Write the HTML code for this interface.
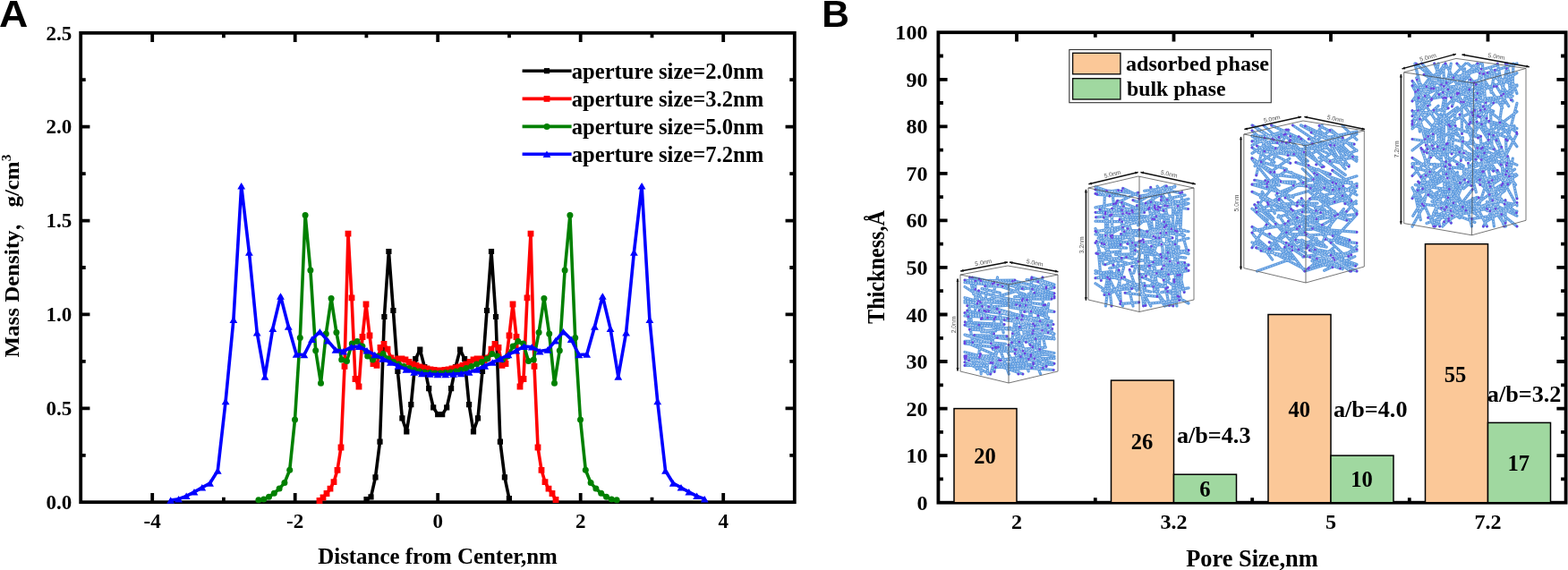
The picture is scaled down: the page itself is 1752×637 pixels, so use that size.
<!DOCTYPE html>
<html><head><meta charset="utf-8"><title>Figure</title>
<style>html,body{margin:0;padding:0;background:#fff;overflow:hidden}svg{display:block}</style>
</head><body><svg width="1752" height="637" viewBox="0 0 1752 637"><path d="M170.2,561.2V551.0M170.2,36.8V47.0M249.9,561.2V555.7M249.9,36.8V42.3M329.7,561.2V551.0M329.7,36.8V47.0M409.4,561.2V555.7M409.4,36.8V42.3M489.2,561.2V551.0M489.2,36.8V47.0M569.0,561.2V555.7M569.0,36.8V42.3M648.7,561.2V551.0M648.7,36.8V47.0M728.5,561.2V555.7M728.5,36.8V42.3M808.2,561.2V551.0M808.2,36.8V47.0M90.2,508.8H95.7M887.8,508.8H882.3M90.2,456.3H100.4M887.8,456.3H877.6M90.2,403.9H95.7M887.8,403.9H882.3M90.2,351.4H100.4M887.8,351.4H877.6M90.2,299.0H95.7M887.8,299.0H882.3M90.2,246.6H100.4M887.8,246.6H877.6M90.2,194.1H95.7M887.8,194.1H882.3M90.2,141.7H100.4M887.8,141.7H877.6M90.2,89.2H95.7M887.8,89.2H882.3" stroke="#000" stroke-width="3.8" fill="none"/>
<rect x="90.2" y="36.8" width="797.6" height="524.4" fill="none" stroke="#000" stroke-width="3.8"/>
<text x="80.2" y="568.9" text-anchor="end" style="font-family:'Liberation Serif',serif;font-weight:bold;font-size:23px">0.0</text>
<text x="80.2" y="464.0" text-anchor="end" style="font-family:'Liberation Serif',serif;font-weight:bold;font-size:23px">0.5</text>
<text x="80.2" y="359.1" text-anchor="end" style="font-family:'Liberation Serif',serif;font-weight:bold;font-size:23px">1.0</text>
<text x="80.2" y="254.2" text-anchor="end" style="font-family:'Liberation Serif',serif;font-weight:bold;font-size:23px">1.5</text>
<text x="80.2" y="149.3" text-anchor="end" style="font-family:'Liberation Serif',serif;font-weight:bold;font-size:23px">2.0</text>
<text x="80.2" y="44.5" text-anchor="end" style="font-family:'Liberation Serif',serif;font-weight:bold;font-size:23px">2.5</text>
<text x="170.2" y="590.4" text-anchor="middle" style="font-family:'Liberation Serif',serif;font-weight:bold;font-size:23px">-4</text>
<text x="329.7" y="590.4" text-anchor="middle" style="font-family:'Liberation Serif',serif;font-weight:bold;font-size:23px">-2</text>
<text x="489.2" y="590.4" text-anchor="middle" style="font-family:'Liberation Serif',serif;font-weight:bold;font-size:23px">0</text>
<text x="648.7" y="590.4" text-anchor="middle" style="font-family:'Liberation Serif',serif;font-weight:bold;font-size:23px">2</text>
<text x="808.2" y="590.4" text-anchor="middle" style="font-family:'Liberation Serif',serif;font-weight:bold;font-size:23px">4</text>
<text x="489" y="630.3" text-anchor="middle" style="font-family:'Liberation Serif',serif;font-weight:bold;font-size:24.9px">Distance from Center,nm</text>
<text transform="translate(21.4,399.4) rotate(-90) scale(1.07,1)" x="0" y="0" style="font-family:'Liberation Serif','Noto Serif CJK SC',serif;font-weight:bold;font-size:23.3px">Mass Density，<tspan dx="1">g/cm</tspan><tspan dy="-9" style="font-size:14.5px">3</tspan></text>
<g>
<path d="M409.5,558.1L414.5,555.3L419.5,533.3L424.5,493.7L429.4,354.0L434.4,281.0L439.4,347.0L444.4,415.0L449.4,467.4L454.3,482.3L459.3,452.2L464.3,401.2L469.3,390.7L474.3,410.0L479.2,434.2L484.2,455.4L489.2,463.2L494.2,463.2L499.2,455.4L504.1,434.2L509.1,410.0L514.1,390.7L519.1,401.2L524.1,452.2L529.0,482.3L534.0,467.4L539.0,415.0L544.0,347.0L549.0,281.0L554.0,354.0L558.9,493.7L563.9,533.3L568.9,557.0" stroke="#000000" stroke-width="3.6" fill="none" stroke-linejoin="round"/>
<path d="M406.4,555.0h6.2v6.2h-6.2zM411.4,552.2h6.2v6.2h-6.2zM416.4,530.2h6.2v6.2h-6.2zM421.4,490.6h6.2v6.2h-6.2zM426.3,350.9h6.2v6.2h-6.2zM431.3,277.9h6.2v6.2h-6.2zM436.3,343.9h6.2v6.2h-6.2zM441.3,411.9h6.2v6.2h-6.2zM446.3,464.3h6.2v6.2h-6.2zM451.2,479.2h6.2v6.2h-6.2zM456.2,449.1h6.2v6.2h-6.2zM461.2,398.1h6.2v6.2h-6.2zM466.2,387.6h6.2v6.2h-6.2zM471.2,406.9h6.2v6.2h-6.2zM476.1,431.1h6.2v6.2h-6.2zM481.1,452.3h6.2v6.2h-6.2zM486.1,460.1h6.2v6.2h-6.2zM491.1,460.1h6.2v6.2h-6.2zM496.1,452.3h6.2v6.2h-6.2zM501.0,431.1h6.2v6.2h-6.2zM506.0,406.9h6.2v6.2h-6.2zM511.0,387.6h6.2v6.2h-6.2zM516.0,398.1h6.2v6.2h-6.2zM521.0,449.1h6.2v6.2h-6.2zM525.9,479.2h6.2v6.2h-6.2zM530.9,464.3h6.2v6.2h-6.2zM535.9,411.9h6.2v6.2h-6.2zM540.9,343.9h6.2v6.2h-6.2zM545.9,277.9h6.2v6.2h-6.2zM550.9,350.9h6.2v6.2h-6.2zM555.8,490.6h6.2v6.2h-6.2zM560.8,530.2h6.2v6.2h-6.2zM565.8,553.9h6.2v6.2h-6.2z" fill="#000000"/>
<path d="M357.0,559.5L361.0,556.0L365.0,551.5L369.0,546.1L373.0,538.7L377.0,525.3L381.0,500.0L385.0,409.3L389.0,261.2L393.0,332.9L397.0,423.5L401.0,432.0L405.0,376.5L409.0,340.0L413.0,375.0L417.0,406.5L421.0,408.4L425.0,388.3L429.0,384.5L433.0,390.2L437.0,400.0L441.0,402.7L445.0,401.0L449.0,401.0L453.0,402.0L457.0,404.5L461.0,407.0L465.0,408.5L469.0,410.0L473.0,411.0L477.0,412.0L481.0,413.0L485.0,413.5L489.0,414.0L493.0,414.0L497.0,413.5L501.0,413.0L505.0,412.0L509.0,411.0L513.0,410.0L517.0,408.5L521.0,407.0L525.0,404.5L529.0,402.0L533.0,401.0L537.0,401.0L541.0,402.7L545.0,400.0L549.0,390.2L553.0,384.5L557.0,388.3L561.0,408.4L565.0,406.5L569.0,375.0L573.0,340.0L577.0,376.5L581.0,432.0L585.0,423.5L589.0,332.9L593.0,261.2L597.0,409.3L601.0,500.0L605.0,525.3L609.0,538.7L613.0,546.1L617.0,551.5L621.0,558.5" stroke="#ff0000" stroke-width="3.6" fill="none" stroke-linejoin="round"/>
<path d="M353.6,556.1h6.8v6.8h-6.8zM357.6,552.6h6.8v6.8h-6.8zM361.6,548.1h6.8v6.8h-6.8zM365.6,542.7h6.8v6.8h-6.8zM369.6,535.3h6.8v6.8h-6.8zM373.6,521.9h6.8v6.8h-6.8zM377.6,496.6h6.8v6.8h-6.8zM381.6,405.9h6.8v6.8h-6.8zM385.6,257.8h6.8v6.8h-6.8zM389.6,329.5h6.8v6.8h-6.8zM393.6,420.1h6.8v6.8h-6.8zM397.6,428.6h6.8v6.8h-6.8zM401.6,373.1h6.8v6.8h-6.8zM405.6,336.6h6.8v6.8h-6.8zM409.6,371.6h6.8v6.8h-6.8zM413.6,403.1h6.8v6.8h-6.8zM417.6,405.0h6.8v6.8h-6.8zM421.6,384.9h6.8v6.8h-6.8zM425.6,381.1h6.8v6.8h-6.8zM429.6,386.8h6.8v6.8h-6.8zM433.6,396.6h6.8v6.8h-6.8zM437.6,399.3h6.8v6.8h-6.8zM441.6,397.6h6.8v6.8h-6.8zM445.6,397.6h6.8v6.8h-6.8zM449.6,398.6h6.8v6.8h-6.8zM453.6,401.1h6.8v6.8h-6.8zM457.6,403.6h6.8v6.8h-6.8zM461.6,405.1h6.8v6.8h-6.8zM465.6,406.6h6.8v6.8h-6.8zM469.6,407.6h6.8v6.8h-6.8zM473.6,408.6h6.8v6.8h-6.8zM477.6,409.6h6.8v6.8h-6.8zM481.6,410.1h6.8v6.8h-6.8zM485.6,410.6h6.8v6.8h-6.8zM489.6,410.6h6.8v6.8h-6.8zM493.6,410.1h6.8v6.8h-6.8zM497.6,409.6h6.8v6.8h-6.8zM501.6,408.6h6.8v6.8h-6.8zM505.6,407.6h6.8v6.8h-6.8zM509.6,406.6h6.8v6.8h-6.8zM513.6,405.1h6.8v6.8h-6.8zM517.6,403.6h6.8v6.8h-6.8zM521.6,401.1h6.8v6.8h-6.8zM525.6,398.6h6.8v6.8h-6.8zM529.6,397.6h6.8v6.8h-6.8zM533.6,397.6h6.8v6.8h-6.8zM537.6,399.3h6.8v6.8h-6.8zM541.6,396.6h6.8v6.8h-6.8zM545.6,386.8h6.8v6.8h-6.8zM549.6,381.1h6.8v6.8h-6.8zM553.6,384.9h6.8v6.8h-6.8zM557.6,405.0h6.8v6.8h-6.8zM561.6,403.1h6.8v6.8h-6.8zM565.6,371.6h6.8v6.8h-6.8zM569.6,336.6h6.8v6.8h-6.8zM573.6,373.1h6.8v6.8h-6.8zM577.6,428.6h6.8v6.8h-6.8zM581.6,420.1h6.8v6.8h-6.8zM585.6,329.5h6.8v6.8h-6.8zM589.6,257.8h6.8v6.8h-6.8zM593.6,405.9h6.8v6.8h-6.8zM597.6,496.6h6.8v6.8h-6.8zM601.6,521.9h6.8v6.8h-6.8zM605.6,535.3h6.8v6.8h-6.8zM609.6,542.7h6.8v6.8h-6.8zM613.6,548.1h6.8v6.8h-6.8zM617.6,555.1h6.8v6.8h-6.8z" fill="#ff0000"/>
<path d="M288.9,558.8L294.7,558.0L300.5,555.3L306.3,551.2L312.1,546.1L317.9,539.6L323.7,525.3L329.5,469.0L335.3,377.4L341.1,240.5L346.9,302.1L352.7,391.8L358.5,428.2L364.3,373.0L370.1,333.4L375.9,371.4L381.7,402.0L387.5,403.6L393.3,384.0L399.1,381.6L404.9,387.1L410.7,398.0L416.5,402.0L422.3,398.0L428.1,395.5L433.9,401.0L439.7,404.5L445.5,407.0L451.3,409.5L457.1,411.5L462.9,413.5L468.7,415.0L474.5,416.0L480.3,416.5L486.1,417.0L491.9,417.0L497.7,416.5L503.5,416.0L509.3,415.0L515.1,413.5L520.9,411.5L526.7,409.5L532.5,407.0L538.3,404.5L544.1,401.0L549.9,395.5L555.7,398.0L561.5,402.0L567.3,398.0L573.1,387.1L578.9,381.6L584.7,384.0L590.5,403.6L596.3,402.0L602.1,371.4L607.9,333.4L613.7,373.0L619.5,428.2L625.3,391.8L631.1,302.1L636.9,240.5L642.7,377.4L648.5,469.0L654.3,525.3L660.1,539.6L665.9,546.1L671.7,551.2L677.5,555.3L683.3,558.0L689.1,558.8" stroke="#008000" stroke-width="3.6" fill="none" stroke-linejoin="round"/>
<circle cx="288.9" cy="558.8" r="3.5" fill="#008000"/><circle cx="294.7" cy="558.0" r="3.5" fill="#008000"/><circle cx="300.5" cy="555.3" r="3.5" fill="#008000"/><circle cx="306.3" cy="551.2" r="3.5" fill="#008000"/><circle cx="312.1" cy="546.1" r="3.5" fill="#008000"/><circle cx="317.9" cy="539.6" r="3.5" fill="#008000"/><circle cx="323.7" cy="525.3" r="3.5" fill="#008000"/><circle cx="329.5" cy="469.0" r="3.5" fill="#008000"/><circle cx="335.3" cy="377.4" r="3.5" fill="#008000"/><circle cx="341.1" cy="240.5" r="3.5" fill="#008000"/><circle cx="346.9" cy="302.1" r="3.5" fill="#008000"/><circle cx="352.7" cy="391.8" r="3.5" fill="#008000"/><circle cx="358.5" cy="428.2" r="3.5" fill="#008000"/><circle cx="364.3" cy="373.0" r="3.5" fill="#008000"/><circle cx="370.1" cy="333.4" r="3.5" fill="#008000"/><circle cx="375.9" cy="371.4" r="3.5" fill="#008000"/><circle cx="381.7" cy="402.0" r="3.5" fill="#008000"/><circle cx="387.5" cy="403.6" r="3.5" fill="#008000"/><circle cx="393.3" cy="384.0" r="3.5" fill="#008000"/><circle cx="399.1" cy="381.6" r="3.5" fill="#008000"/><circle cx="404.9" cy="387.1" r="3.5" fill="#008000"/><circle cx="410.7" cy="398.0" r="3.5" fill="#008000"/><circle cx="416.5" cy="402.0" r="3.5" fill="#008000"/><circle cx="422.3" cy="398.0" r="3.5" fill="#008000"/><circle cx="428.1" cy="395.5" r="3.5" fill="#008000"/><circle cx="433.9" cy="401.0" r="3.5" fill="#008000"/><circle cx="439.7" cy="404.5" r="3.5" fill="#008000"/><circle cx="445.5" cy="407.0" r="3.5" fill="#008000"/><circle cx="451.3" cy="409.5" r="3.5" fill="#008000"/><circle cx="457.1" cy="411.5" r="3.5" fill="#008000"/><circle cx="462.9" cy="413.5" r="3.5" fill="#008000"/><circle cx="468.7" cy="415.0" r="3.5" fill="#008000"/><circle cx="474.5" cy="416.0" r="3.5" fill="#008000"/><circle cx="480.3" cy="416.5" r="3.5" fill="#008000"/><circle cx="486.1" cy="417.0" r="3.5" fill="#008000"/><circle cx="491.9" cy="417.0" r="3.5" fill="#008000"/><circle cx="497.7" cy="416.5" r="3.5" fill="#008000"/><circle cx="503.5" cy="416.0" r="3.5" fill="#008000"/><circle cx="509.3" cy="415.0" r="3.5" fill="#008000"/><circle cx="515.1" cy="413.5" r="3.5" fill="#008000"/><circle cx="520.9" cy="411.5" r="3.5" fill="#008000"/><circle cx="526.7" cy="409.5" r="3.5" fill="#008000"/><circle cx="532.5" cy="407.0" r="3.5" fill="#008000"/><circle cx="538.3" cy="404.5" r="3.5" fill="#008000"/><circle cx="544.1" cy="401.0" r="3.5" fill="#008000"/><circle cx="549.9" cy="395.5" r="3.5" fill="#008000"/><circle cx="555.7" cy="398.0" r="3.5" fill="#008000"/><circle cx="561.5" cy="402.0" r="3.5" fill="#008000"/><circle cx="567.3" cy="398.0" r="3.5" fill="#008000"/><circle cx="573.1" cy="387.1" r="3.5" fill="#008000"/><circle cx="578.9" cy="381.6" r="3.5" fill="#008000"/><circle cx="584.7" cy="384.0" r="3.5" fill="#008000"/><circle cx="590.5" cy="403.6" r="3.5" fill="#008000"/><circle cx="596.3" cy="402.0" r="3.5" fill="#008000"/><circle cx="602.1" cy="371.4" r="3.5" fill="#008000"/><circle cx="607.9" cy="333.4" r="3.5" fill="#008000"/><circle cx="613.7" cy="373.0" r="3.5" fill="#008000"/><circle cx="619.5" cy="428.2" r="3.5" fill="#008000"/><circle cx="625.3" cy="391.8" r="3.5" fill="#008000"/><circle cx="631.1" cy="302.1" r="3.5" fill="#008000"/><circle cx="636.9" cy="240.5" r="3.5" fill="#008000"/><circle cx="642.7" cy="377.4" r="3.5" fill="#008000"/><circle cx="648.5" cy="469.0" r="3.5" fill="#008000"/><circle cx="654.3" cy="525.3" r="3.5" fill="#008000"/><circle cx="660.1" cy="539.6" r="3.5" fill="#008000"/><circle cx="665.9" cy="546.1" r="3.5" fill="#008000"/><circle cx="671.7" cy="551.2" r="3.5" fill="#008000"/><circle cx="677.5" cy="555.3" r="3.5" fill="#008000"/><circle cx="683.3" cy="558.0" r="3.5" fill="#008000"/><circle cx="689.1" cy="558.8" r="3.5" fill="#008000"/>
<path d="M190.7,559.0L199.5,557.7L208.2,554.4L217.0,549.9L225.8,544.9L234.6,540.0L243.3,526.0L252.1,448.5L260.9,357.3L269.7,207.8L278.4,282.0L287.2,371.6L296.0,421.0L304.8,367.1L313.5,331.0L322.3,365.0L331.1,396.0L339.9,396.5L348.6,379.2L357.4,370.6L366.2,380.8L375.0,391.0L383.7,392.6L392.5,387.9L401.3,387.1L410.0,391.8L418.8,396.5L427.6,401.0L436.4,405.0L445.1,409.0L453.9,413.0L462.7,416.0L471.5,417.5L480.2,418.0L489.0,418.5L497.8,418.5L506.6,418.0L515.3,417.5L524.1,416.0L532.9,413.0L541.7,409.0L550.4,405.0L559.2,401.0L568.0,396.5L576.8,391.8L585.5,387.1L594.3,387.9L603.1,392.6L611.9,391.0L620.6,380.8L629.4,370.6L638.2,379.2L646.9,396.5L655.7,396.0L664.5,365.0L673.3,331.0L682.0,367.1L690.8,421.0L699.6,371.6L708.4,282.0L717.1,207.8L725.9,357.3L734.7,448.5L743.5,526.0L752.2,540.0L761.0,544.9L769.8,549.9L778.6,554.4L787.3,557.7" stroke="#0000ff" stroke-width="3.6" fill="none" stroke-linejoin="round"/>
<path d="M190.7,555.2l4.4,7.5h-8.8zM199.5,554.0l4.4,7.5h-8.8zM208.2,550.6l4.4,7.5h-8.8zM217.0,546.1l4.4,7.5h-8.8zM225.8,541.1l4.4,7.5h-8.8zM234.6,536.2l4.4,7.5h-8.8zM243.3,522.2l4.4,7.5h-8.8zM252.1,444.8l4.4,7.5h-8.8zM260.9,353.6l4.4,7.5h-8.8zM269.7,204.1l4.4,7.5h-8.8zM278.4,278.2l4.4,7.5h-8.8zM287.2,367.9l4.4,7.5h-8.8zM296.0,417.2l4.4,7.5h-8.8zM304.8,363.4l4.4,7.5h-8.8zM313.5,327.2l4.4,7.5h-8.8zM322.3,361.2l4.4,7.5h-8.8zM331.1,392.2l4.4,7.5h-8.8zM339.9,392.8l4.4,7.5h-8.8zM348.6,375.4l4.4,7.5h-8.8zM357.4,366.9l4.4,7.5h-8.8zM366.2,377.1l4.4,7.5h-8.8zM375.0,387.2l4.4,7.5h-8.8zM383.7,388.9l4.4,7.5h-8.8zM392.5,384.1l4.4,7.5h-8.8zM401.3,383.4l4.4,7.5h-8.8zM410.0,388.1l4.4,7.5h-8.8zM418.8,392.8l4.4,7.5h-8.8zM427.6,397.2l4.4,7.5h-8.8zM436.4,401.2l4.4,7.5h-8.8zM445.1,405.2l4.4,7.5h-8.8zM453.9,409.2l4.4,7.5h-8.8zM462.7,412.2l4.4,7.5h-8.8zM471.5,413.8l4.4,7.5h-8.8zM480.2,414.2l4.4,7.5h-8.8zM489.0,414.8l4.4,7.5h-8.8zM497.8,414.8l4.4,7.5h-8.8zM506.6,414.2l4.4,7.5h-8.8zM515.3,413.8l4.4,7.5h-8.8zM524.1,412.2l4.4,7.5h-8.8zM532.9,409.2l4.4,7.5h-8.8zM541.7,405.2l4.4,7.5h-8.8zM550.4,401.2l4.4,7.5h-8.8zM559.2,397.2l4.4,7.5h-8.8zM568.0,392.8l4.4,7.5h-8.8zM576.8,388.1l4.4,7.5h-8.8zM585.5,383.4l4.4,7.5h-8.8zM594.3,384.1l4.4,7.5h-8.8zM603.1,388.9l4.4,7.5h-8.8zM611.9,387.2l4.4,7.5h-8.8zM620.6,377.1l4.4,7.5h-8.8zM629.4,366.9l4.4,7.5h-8.8zM638.2,375.4l4.4,7.5h-8.8zM646.9,392.8l4.4,7.5h-8.8zM655.7,392.2l4.4,7.5h-8.8zM664.5,361.2l4.4,7.5h-8.8zM673.3,327.2l4.4,7.5h-8.8zM682.0,363.4l4.4,7.5h-8.8zM690.8,417.2l4.4,7.5h-8.8zM699.6,367.9l4.4,7.5h-8.8zM708.4,278.2l4.4,7.5h-8.8zM717.1,204.1l4.4,7.5h-8.8zM725.9,353.6l4.4,7.5h-8.8zM734.7,444.8l4.4,7.5h-8.8zM743.5,522.2l4.4,7.5h-8.8zM752.2,536.2l4.4,7.5h-8.8zM761.0,541.1l4.4,7.5h-8.8zM769.8,546.1l4.4,7.5h-8.8zM778.6,550.6l4.4,7.5h-8.8zM787.3,554.0l4.4,7.5h-8.8z" fill="#0000ff"/>
</g>
<path d="M583.6,79.2H638.6" stroke="#000000" stroke-width="3.6"/>
<path d="M607.9,76.1h6.2v6.2h-6.2z" fill="#000000"/>
<text x="638.8" y="87.6" style="font-family:'Liberation Serif',serif;font-weight:bold;font-size:24.6px">aperture size=2.0nm</text>
<path d="M583.6,110.4H638.6" stroke="#ff0000" stroke-width="3.6"/>
<path d="M607.6,107.0h6.8v6.8h-6.8z" fill="#ff0000"/>
<text x="638.8" y="118.8" style="font-family:'Liberation Serif',serif;font-weight:bold;font-size:24.6px">aperture size=3.2nm</text>
<path d="M583.6,141.4H638.6" stroke="#008000" stroke-width="3.6"/>
<circle cx="611.0" cy="141.4" r="3.5" fill="#008000"/>
<text x="638.8" y="149.8" style="font-family:'Liberation Serif',serif;font-weight:bold;font-size:24.6px">aperture size=5.0nm</text>
<path d="M583.6,172.2H638.6" stroke="#0000ff" stroke-width="3.6"/>
<path d="M611.0,168.4l4.4,7.5h-8.8z" fill="#0000ff"/>
<text x="638.8" y="180.6" style="font-family:'Liberation Serif',serif;font-weight:bold;font-size:24.6px">aperture size=7.2nm</text>
<text transform="translate(-1.0,29.7) scale(1.04,1)" style="font-family:'Liberation Sans',sans-serif;font-weight:bold;font-size:43px">A</text>
<text transform="translate(918.2,29.7)" style="font-family:'Liberation Sans',sans-serif;font-weight:bold;font-size:42.5px">B</text>
<text x="1036.5" y="569.7" text-anchor="end" style="font-family:'Liberation Serif',serif;font-weight:bold;font-size:24.1px">0</text>
<text x="1036.5" y="517.2" text-anchor="end" style="font-family:'Liberation Serif',serif;font-weight:bold;font-size:24.1px">10</text>
<text x="1036.5" y="464.6" text-anchor="end" style="font-family:'Liberation Serif',serif;font-weight:bold;font-size:24.1px">20</text>
<text x="1036.5" y="412.1" text-anchor="end" style="font-family:'Liberation Serif',serif;font-weight:bold;font-size:24.1px">30</text>
<text x="1036.5" y="359.5" text-anchor="end" style="font-family:'Liberation Serif',serif;font-weight:bold;font-size:24.1px">40</text>
<text x="1036.5" y="307.0" text-anchor="end" style="font-family:'Liberation Serif',serif;font-weight:bold;font-size:24.1px">50</text>
<text x="1036.5" y="254.4" text-anchor="end" style="font-family:'Liberation Serif',serif;font-weight:bold;font-size:24.1px">60</text>
<text x="1036.5" y="201.9" text-anchor="end" style="font-family:'Liberation Serif',serif;font-weight:bold;font-size:24.1px">70</text>
<text x="1036.5" y="149.3" text-anchor="end" style="font-family:'Liberation Serif',serif;font-weight:bold;font-size:24.1px">80</text>
<text x="1036.5" y="96.8" text-anchor="end" style="font-family:'Liberation Serif',serif;font-weight:bold;font-size:24.1px">90</text>
<text x="1036.5" y="44.2" text-anchor="end" style="font-family:'Liberation Serif',serif;font-weight:bold;font-size:24.1px">100</text>
<text x="1136" y="591" text-anchor="middle" style="font-family:'Liberation Serif',serif;font-weight:bold;font-size:24.1px">2</text>
<text x="1311.5" y="591" text-anchor="middle" style="font-family:'Liberation Serif',serif;font-weight:bold;font-size:24.1px">3.2</text>
<text x="1487" y="591" text-anchor="middle" style="font-family:'Liberation Serif',serif;font-weight:bold;font-size:24.1px">5</text>
<text x="1662.5" y="591" text-anchor="middle" style="font-family:'Liberation Serif',serif;font-weight:bold;font-size:24.1px">7.2</text>
<text x="1399" y="633" text-anchor="middle" style="font-family:'Liberation Serif',serif;font-weight:bold;font-size:26.4px">Pore Size,nm</text>
<text transform="translate(988,362) rotate(-90) scale(1,1.1)" style="font-family:'Liberation Serif',serif;font-weight:bold;font-size:24.2px">Thickness,Å</text>
<path d="M1136.0,36.2V46.4M1223.8,561.7V556.2M1223.8,36.2V41.7M1311.5,36.2V46.4M1399.2,561.7V556.2M1399.2,36.2V41.7M1487.0,36.2V46.4M1574.8,561.7V556.2M1574.8,36.2V41.7M1662.5,36.2V46.4M1048.4,535.4H1053.9M1749.6,535.4H1744.1M1048.4,509.1H1058.6M1749.6,509.1H1739.4M1048.4,482.9H1053.9M1749.6,482.9H1744.1M1048.4,456.6H1058.6M1749.6,456.6H1739.4M1048.4,430.3H1053.9M1749.6,430.3H1744.1M1048.4,404.0H1058.6M1749.6,404.0H1739.4M1048.4,377.8H1053.9M1749.6,377.8H1744.1M1048.4,351.5H1058.6M1749.6,351.5H1739.4M1048.4,325.2H1053.9M1749.6,325.2H1744.1M1048.4,298.9H1058.6M1749.6,298.9H1739.4M1048.4,272.7H1053.9M1749.6,272.7H1744.1M1048.4,246.4H1058.6M1749.6,246.4H1739.4M1048.4,220.1H1053.9M1749.6,220.1H1744.1M1048.4,193.9H1058.6M1749.6,193.9H1739.4M1048.4,167.6H1053.9M1749.6,167.6H1744.1M1048.4,141.3H1058.6M1749.6,141.3H1739.4M1048.4,115.0H1053.9M1749.6,115.0H1744.1M1048.4,88.8H1058.6M1749.6,88.8H1739.4M1048.4,62.5H1053.9M1749.6,62.5H1744.1" stroke="#000" stroke-width="3.8" fill="none"/>
<rect x="1048.4" y="36.2" width="701.2" height="525.5" fill="none" stroke="#000" stroke-width="3.8"/>
<rect x="1066" y="456.6" width="70" height="105.1" fill="#fbc898" stroke="#000" stroke-width="1.5"/>
<rect x="1241.5" y="425.1" width="70" height="136.6" fill="#fbc898" stroke="#000" stroke-width="1.5"/>
<rect x="1311.5" y="530.2" width="70" height="31.5" fill="#a0d8a0" stroke="#000" stroke-width="1.5"/>
<rect x="1417" y="351.5" width="70" height="210.2" fill="#fbc898" stroke="#000" stroke-width="1.5"/>
<rect x="1487" y="509.1" width="70" height="52.6" fill="#a0d8a0" stroke="#000" stroke-width="1.5"/>
<rect x="1592.5" y="272.7" width="70" height="289.0" fill="#fbc898" stroke="#000" stroke-width="1.5"/>
<rect x="1662.5" y="472.4" width="70" height="89.3" fill="#a0d8a0" stroke="#000" stroke-width="1.5"/>
<text x="1100.6" y="517.9" text-anchor="middle" style="font-family:'Liberation Serif',serif;font-weight:bold;font-size:24.6px">20</text>
<text x="1276" y="502.0" text-anchor="middle" style="font-family:'Liberation Serif',serif;font-weight:bold;font-size:24.6px">26</text>
<text x="1346.4" y="555.2" text-anchor="middle" style="font-family:'Liberation Serif',serif;font-weight:bold;font-size:24.6px">6</text>
<text x="1451.7" y="466.1" text-anchor="middle" style="font-family:'Liberation Serif',serif;font-weight:bold;font-size:24.6px">40</text>
<text x="1521.6" y="543.9" text-anchor="middle" style="font-family:'Liberation Serif',serif;font-weight:bold;font-size:24.6px">10</text>
<text x="1626.1" y="426.6" text-anchor="middle" style="font-family:'Liberation Serif',serif;font-weight:bold;font-size:24.6px">55</text>
<text x="1696.7" y="525.7" text-anchor="middle" style="font-family:'Liberation Serif',serif;font-weight:bold;font-size:24.6px">17</text>
<text x="1314.9" y="495.3" style="font-family:'Liberation Serif',serif;font-weight:bold;font-size:26.2px">a/b=4.3</text>
<text x="1489.9" y="466.3" style="font-family:'Liberation Serif',serif;font-weight:bold;font-size:26.2px">a/b=4.0</text>
<text x="1661.8" y="449.3" style="font-family:'Liberation Serif',serif;font-weight:bold;font-size:26.2px">a/b=3.2</text>
<rect x="1194.8" y="55.5" width="225.5" height="59.2" fill="#fff" stroke="#333" stroke-width="1.1"/>
<rect x="1198.6" y="59.3" width="53.3" height="23.5" fill="#fbc898" stroke="#111" stroke-width="1.4"/>
<rect x="1198.6" y="87.7" width="53.3" height="23.3" fill="#a0d8a0" stroke="#111" stroke-width="1.4"/>
<text x="1258" y="78.9" style="font-family:'Liberation Serif',serif;font-weight:bold;font-size:24.1px">adsorbed phase</text>
<text x="1259" y="106.8" style="font-family:'Liberation Serif',serif;font-weight:bold;font-size:23.8px">bulk phase</text>
<path d="M1079.7,397.8L1109.0,401.1M1131.9,390.4L1152.0,396.5M1142.0,352.2L1175.8,362.0M1102.3,398.9L1103.8,418.0M1081.8,353.9L1086.8,382.5M1078.0,332.7L1099.7,338.5M1093.0,336.5L1113.9,336.5M1147.1,367.9L1171.0,371.6M1155.9,400.7L1178.0,400.7M1171.7,339.4L1164.7,372.7M1110.9,356.8L1108.9,389.1M1078.0,338.1L1099.6,337.4M1083.3,368.2L1112.6,369.8M1114.6,392.5L1143.0,392.3M1110.8,316.1L1143.3,316.0M1098.8,336.2L1137.6,324.6M1152.0,348.1L1153.8,387.9M1120.1,355.2L1150.2,364.5M1152.9,310.0L1178.0,318.0M1142.1,368.3L1170.8,363.6M1078.0,399.1L1102.1,404.4M1099.0,343.6L1130.7,353.0M1122.3,357.6L1154.4,361.9M1143.1,390.5L1178.0,398.4M1095.2,397.4L1115.7,400.3M1135.1,336.2L1167.9,340.7M1100.7,319.7L1126.7,320.5M1132.5,357.8L1162.4,360.9M1078.0,349.6L1103.3,355.3M1110.7,330.9L1147.1,337.8M1078.0,313.0L1101.2,316.6M1124.3,367.9L1164.5,369.2M1139.3,365.2L1171.5,366.2M1098.3,377.4L1124.8,377.3M1151.7,398.3L1178.0,406.3M1140.1,355.2L1160.7,355.7M1165.0,310.0L1160.7,328.6M1146.5,411.2L1177.2,413.5M1104.6,347.8L1128.9,349.0M1078.0,381.3L1106.9,380.6M1112.8,388.4L1111.1,415.4M1160.5,391.2L1178.0,394.5M1138.9,382.0L1149.2,414.9M1110.2,407.0L1142.9,418.0M1089.9,314.0L1089.7,346.6M1147.1,345.8L1171.7,355.3M1162.0,358.8L1161.6,390.4M1078.0,315.7L1110.6,318.3M1140.5,398.6L1168.5,396.4M1121.6,336.5L1147.4,335.1M1159.9,352.8L1168.0,388.3M1147.1,312.6L1169.2,315.9M1078.3,401.1L1106.9,405.4M1078.0,320.5L1107.6,339.6M1079.5,400.2L1103.4,411.6M1088.5,360.7L1122.1,362.6M1083.5,310.0L1087.8,328.7M1114.6,310.0L1107.1,339.2M1155.8,327.3L1178.0,321.4M1129.8,383.1L1160.8,378.0M1095.5,337.6L1125.0,338.7M1148.7,366.1L1135.3,391.1M1097.5,342.4L1122.9,350.3M1096.6,370.8L1128.9,366.2M1094.1,311.9L1115.0,318.2M1078.0,374.1L1106.8,381.5M1116.5,402.6L1138.2,399.4M1149.2,328.3L1178.0,333.0M1144.7,348.4L1170.5,342.8M1163.1,317.0L1165.4,337.9M1115.5,387.9L1106.7,418.0M1133.6,331.6L1157.2,330.7M1131.4,372.7L1164.2,389.5M1134.5,353.5L1130.6,382.9M1104.8,342.8L1132.1,352.3M1123.0,317.6L1146.0,321.1M1089.7,323.4L1097.3,355.4M1088.5,310.6L1118.5,317.0M1126.5,356.1L1156.9,359.3M1110.1,335.8L1142.0,336.1M1154.6,405.6L1176.3,407.6M1111.1,401.0L1147.0,404.0M1146.2,341.3L1178.0,348.3M1145.4,354.8L1154.1,392.5M1154.4,369.4L1178.0,373.2M1134.6,314.4L1168.8,322.2M1093.9,363.2L1134.1,367.8M1136.9,375.6L1175.8,378.6M1153.4,323.1L1178.0,331.3M1118.6,393.9L1127.3,418.0M1136.4,355.5L1175.3,358.8M1156.2,322.5L1178.0,327.9M1080.8,341.7L1104.9,344.6M1106.1,313.4L1138.7,316.9M1142.7,334.0L1175.0,334.1M1086.7,381.1L1123.5,384.4M1156.2,364.2L1178.0,373.0M1098.9,343.5L1135.6,340.5M1078.0,382.0L1111.6,396.5M1081.2,363.2L1107.9,364.9M1114.1,345.3L1142.5,353.5M1093.0,351.7L1127.1,355.8M1114.4,377.5L1140.2,380.7M1136.2,387.5L1137.9,418.0M1165.9,341.0L1178.0,379.1M1095.0,326.4L1125.2,334.3M1096.1,313.7L1134.0,313.0M1136.1,370.0L1135.4,405.7M1113.0,389.1L1141.7,389.0M1134.6,360.3L1145.2,395.0M1157.1,378.7L1162.6,403.9M1135.4,401.7L1158.9,402.5M1141.6,357.3L1175.7,367.5M1110.6,347.5L1131.1,351.0M1112.3,410.6L1145.0,408.4M1102.6,321.3L1099.9,347.1M1078.0,397.8L1106.6,397.7M1079.6,375.0L1115.4,384.2M1088.6,374.6L1125.1,375.8M1141.8,344.9L1178.0,348.3M1134.1,395.2L1159.9,402.9M1109.6,390.7L1133.9,390.6M1131.4,314.3L1147.8,345.5M1126.5,337.0L1149.1,342.4M1078.0,383.9L1112.1,388.1M1133.9,344.0L1162.3,344.3M1109.0,317.3L1145.6,329.1M1083.7,313.1L1120.1,320.0M1153.7,372.8L1178.0,378.3M1078.0,353.0L1104.8,354.6M1093.5,324.9L1101.5,348.3M1128.6,343.5L1167.0,349.9M1159.7,314.9L1178.0,320.5M1116.2,406.4L1154.6,407.1M1152.5,311.6L1151.1,345.5M1078.0,349.8L1102.1,353.6M1149.4,401.4L1169.1,409.4M1097.0,322.6L1117.4,327.3M1126.9,385.5L1154.4,392.4M1127.4,412.7L1152.7,411.1M1078.0,408.4L1103.5,408.4M1116.2,315.1L1143.9,323.3M1082.6,402.8L1118.1,402.7M1128.3,391.4L1168.4,388.1M1095.5,395.6L1096.2,417.8M1136.6,359.2L1177.0,362.5M1078.0,363.3L1102.7,371.1M1152.3,313.0L1174.0,318.0M1142.3,322.6L1169.0,320.9M1096.7,375.3L1091.2,412.8M1096.3,356.4L1123.6,356.3M1142.9,409.7L1165.3,411.4M1139.6,341.6L1144.5,375.9M1125.6,392.6L1136.9,416.4M1080.8,347.1L1112.1,354.5M1078.0,393.5L1099.1,398.8M1094.0,347.1L1124.9,350.8M1082.2,407.0L1109.2,405.5M1078.0,404.8L1106.7,418.0M1151.4,389.9L1162.6,418.0M1078.3,359.9L1110.5,372.9M1149.2,333.2L1152.2,366.6M1116.8,348.9L1121.2,371.9M1144.1,358.4L1146.4,382.4M1107.4,383.8L1132.3,390.7M1078.0,336.1L1107.0,343.2M1086.4,310.0L1092.0,339.2M1081.1,333.3L1086.9,367.7M1094.4,399.2L1121.9,408.6M1137.2,351.6L1151.1,385.5" stroke="#5898de" stroke-width="3.2" stroke-linecap="round" opacity="0.95" fill="none"/><path d="M1079.7,397.8L1109.0,401.1M1131.9,390.4L1152.0,396.5M1142.0,352.2L1175.8,362.0M1102.3,398.9L1103.8,418.0M1081.8,353.9L1086.8,382.5M1078.0,332.7L1099.7,338.5M1093.0,336.5L1113.9,336.5M1147.1,367.9L1171.0,371.6M1155.9,400.7L1178.0,400.7M1171.7,339.4L1164.7,372.7M1110.9,356.8L1108.9,389.1M1078.0,338.1L1099.6,337.4M1083.3,368.2L1112.6,369.8M1114.6,392.5L1143.0,392.3M1110.8,316.1L1143.3,316.0M1098.8,336.2L1137.6,324.6M1152.0,348.1L1153.8,387.9M1120.1,355.2L1150.2,364.5M1152.9,310.0L1178.0,318.0M1142.1,368.3L1170.8,363.6M1078.0,399.1L1102.1,404.4M1099.0,343.6L1130.7,353.0M1122.3,357.6L1154.4,361.9M1143.1,390.5L1178.0,398.4M1095.2,397.4L1115.7,400.3M1135.1,336.2L1167.9,340.7M1100.7,319.7L1126.7,320.5M1132.5,357.8L1162.4,360.9M1078.0,349.6L1103.3,355.3M1110.7,330.9L1147.1,337.8M1078.0,313.0L1101.2,316.6M1124.3,367.9L1164.5,369.2M1139.3,365.2L1171.5,366.2M1098.3,377.4L1124.8,377.3M1151.7,398.3L1178.0,406.3M1140.1,355.2L1160.7,355.7M1165.0,310.0L1160.7,328.6M1146.5,411.2L1177.2,413.5M1104.6,347.8L1128.9,349.0M1078.0,381.3L1106.9,380.6M1112.8,388.4L1111.1,415.4M1160.5,391.2L1178.0,394.5M1138.9,382.0L1149.2,414.9M1110.2,407.0L1142.9,418.0M1089.9,314.0L1089.7,346.6M1147.1,345.8L1171.7,355.3M1162.0,358.8L1161.6,390.4M1078.0,315.7L1110.6,318.3M1140.5,398.6L1168.5,396.4M1121.6,336.5L1147.4,335.1M1159.9,352.8L1168.0,388.3M1147.1,312.6L1169.2,315.9M1078.3,401.1L1106.9,405.4M1078.0,320.5L1107.6,339.6M1079.5,400.2L1103.4,411.6M1088.5,360.7L1122.1,362.6M1083.5,310.0L1087.8,328.7M1114.6,310.0L1107.1,339.2M1155.8,327.3L1178.0,321.4M1129.8,383.1L1160.8,378.0M1095.5,337.6L1125.0,338.7M1148.7,366.1L1135.3,391.1M1097.5,342.4L1122.9,350.3M1096.6,370.8L1128.9,366.2M1094.1,311.9L1115.0,318.2M1078.0,374.1L1106.8,381.5M1116.5,402.6L1138.2,399.4M1149.2,328.3L1178.0,333.0M1144.7,348.4L1170.5,342.8M1163.1,317.0L1165.4,337.9M1115.5,387.9L1106.7,418.0M1133.6,331.6L1157.2,330.7M1131.4,372.7L1164.2,389.5M1134.5,353.5L1130.6,382.9M1104.8,342.8L1132.1,352.3M1123.0,317.6L1146.0,321.1M1089.7,323.4L1097.3,355.4M1088.5,310.6L1118.5,317.0M1126.5,356.1L1156.9,359.3M1110.1,335.8L1142.0,336.1M1154.6,405.6L1176.3,407.6M1111.1,401.0L1147.0,404.0M1146.2,341.3L1178.0,348.3M1145.4,354.8L1154.1,392.5M1154.4,369.4L1178.0,373.2M1134.6,314.4L1168.8,322.2M1093.9,363.2L1134.1,367.8M1136.9,375.6L1175.8,378.6M1153.4,323.1L1178.0,331.3M1118.6,393.9L1127.3,418.0M1136.4,355.5L1175.3,358.8M1156.2,322.5L1178.0,327.9M1080.8,341.7L1104.9,344.6M1106.1,313.4L1138.7,316.9M1142.7,334.0L1175.0,334.1M1086.7,381.1L1123.5,384.4M1156.2,364.2L1178.0,373.0M1098.9,343.5L1135.6,340.5M1078.0,382.0L1111.6,396.5M1081.2,363.2L1107.9,364.9M1114.1,345.3L1142.5,353.5M1093.0,351.7L1127.1,355.8M1114.4,377.5L1140.2,380.7M1136.2,387.5L1137.9,418.0M1165.9,341.0L1178.0,379.1M1095.0,326.4L1125.2,334.3M1096.1,313.7L1134.0,313.0M1136.1,370.0L1135.4,405.7M1113.0,389.1L1141.7,389.0M1134.6,360.3L1145.2,395.0M1157.1,378.7L1162.6,403.9M1135.4,401.7L1158.9,402.5M1141.6,357.3L1175.7,367.5M1110.6,347.5L1131.1,351.0M1112.3,410.6L1145.0,408.4M1102.6,321.3L1099.9,347.1M1078.0,397.8L1106.6,397.7M1079.6,375.0L1115.4,384.2M1088.6,374.6L1125.1,375.8M1141.8,344.9L1178.0,348.3M1134.1,395.2L1159.9,402.9M1109.6,390.7L1133.9,390.6M1131.4,314.3L1147.8,345.5M1126.5,337.0L1149.1,342.4M1078.0,383.9L1112.1,388.1M1133.9,344.0L1162.3,344.3M1109.0,317.3L1145.6,329.1M1083.7,313.1L1120.1,320.0M1153.7,372.8L1178.0,378.3M1078.0,353.0L1104.8,354.6M1093.5,324.9L1101.5,348.3M1128.6,343.5L1167.0,349.9M1159.7,314.9L1178.0,320.5M1116.2,406.4L1154.6,407.1M1152.5,311.6L1151.1,345.5M1078.0,349.8L1102.1,353.6M1149.4,401.4L1169.1,409.4M1097.0,322.6L1117.4,327.3M1126.9,385.5L1154.4,392.4M1127.4,412.7L1152.7,411.1M1078.0,408.4L1103.5,408.4M1116.2,315.1L1143.9,323.3M1082.6,402.8L1118.1,402.7M1128.3,391.4L1168.4,388.1M1095.5,395.6L1096.2,417.8M1136.6,359.2L1177.0,362.5M1078.0,363.3L1102.7,371.1M1152.3,313.0L1174.0,318.0M1142.3,322.6L1169.0,320.9M1096.7,375.3L1091.2,412.8M1096.3,356.4L1123.6,356.3M1142.9,409.7L1165.3,411.4M1139.6,341.6L1144.5,375.9M1125.6,392.6L1136.9,416.4M1080.8,347.1L1112.1,354.5M1078.0,393.5L1099.1,398.8M1094.0,347.1L1124.9,350.8M1082.2,407.0L1109.2,405.5M1078.0,404.8L1106.7,418.0M1151.4,389.9L1162.6,418.0M1078.3,359.9L1110.5,372.9M1149.2,333.2L1152.2,366.6M1116.8,348.9L1121.2,371.9M1144.1,358.4L1146.4,382.4M1107.4,383.8L1132.3,390.7M1078.0,336.1L1107.0,343.2M1086.4,310.0L1092.0,339.2M1081.1,333.3L1086.9,367.7M1094.4,399.2L1121.9,408.6M1137.2,351.6L1151.1,385.5" stroke="#e0eaf6" stroke-width="1.0" stroke-dasharray="1.1 1.9" opacity="0.8" fill="none"/><path d="M1079.7,397.8h0.01M1142.0,352.2h0.01M1081.8,353.9h0.01M1093.0,336.5h0.01M1155.9,400.7h0.01M1110.9,356.8h0.01M1083.3,368.2h0.01M1110.8,316.1h0.01M1152.0,348.1h0.01M1152.9,310.0h0.01M1078.0,399.1h0.01M1122.3,357.6h0.01M1095.2,397.4h0.01M1100.7,319.7h0.01M1078.0,349.6h0.01M1078.0,313.0h0.01M1139.3,365.2h0.01M1151.7,398.3h0.01M1165.0,310.0h0.01M1104.6,347.8h0.01M1112.8,388.4h0.01M1138.9,382.0h0.01M1089.9,314.0h0.01M1162.0,358.8h0.01M1140.5,398.6h0.01M1159.9,352.8h0.01M1078.3,401.1h0.01M1079.5,400.2h0.01M1083.5,310.0h0.01M1155.8,327.3h0.01M1095.5,337.6h0.01M1097.5,342.4h0.01M1094.1,311.9h0.01M1116.5,402.6h0.01M1144.7,348.4h0.01M1115.5,387.9h0.01M1131.4,372.7h0.01M1104.8,342.8h0.01M1089.7,323.4h0.01M1126.5,356.1h0.01M1154.6,405.6h0.01M1146.2,341.3h0.01M1154.4,369.4h0.01M1093.9,363.2h0.01M1153.4,323.1h0.01M1136.4,355.5h0.01M1080.8,341.7h0.01M1142.7,334.0h0.01M1156.2,364.2h0.01M1078.0,382.0h0.01M1114.1,345.3h0.01M1114.4,377.5h0.01M1165.9,341.0h0.01M1096.1,313.7h0.01M1113.0,389.1h0.01M1157.1,378.7h0.01M1141.6,357.3h0.01M1112.3,410.6h0.01M1078.0,397.8h0.01M1088.6,374.6h0.01M1134.1,395.2h0.01M1131.4,314.3h0.01M1078.0,383.9h0.01M1109.0,317.3h0.01M1153.7,372.8h0.01M1093.5,324.9h0.01M1159.7,314.9h0.01M1152.5,311.6h0.01M1149.4,401.4h0.01M1126.9,385.5h0.01M1078.0,408.4h0.01M1082.6,402.8h0.01M1095.5,395.6h0.01M1078.0,363.3h0.01M1142.3,322.6h0.01M1096.3,356.4h0.01M1139.6,341.6h0.01M1080.8,347.1h0.01M1094.0,347.1h0.01M1078.0,404.8h0.01M1078.3,359.9h0.01M1116.8,348.9h0.01M1107.4,383.8h0.01M1086.4,310.0h0.01M1094.4,399.2h0.01M1152.0,396.5h0.01M1086.8,382.5h0.01M1171.0,371.6h0.01M1108.9,389.1h0.01M1143.0,392.3h0.01M1153.8,387.9h0.01M1170.8,363.6h0.01M1154.4,361.9h0.01M1167.9,340.7h0.01M1103.3,355.3h0.01M1164.5,369.2h0.01M1178.0,406.3h0.01M1177.2,413.5h0.01M1111.1,415.4h0.01M1142.9,418.0h0.01M1161.6,390.4h0.01M1147.4,335.1h0.01M1106.9,405.4h0.01M1122.1,362.6h0.01M1178.0,321.4h0.01M1135.3,391.1h0.01M1115.0,318.2h0.01M1178.0,333.0h0.01M1106.7,418.0h0.01M1130.6,382.9h0.01M1097.3,355.4h0.01M1142.0,336.1h0.01M1178.0,348.3h0.01M1168.8,322.2h0.01M1178.0,331.3h0.01M1178.0,327.9h0.01M1175.0,334.1h0.01M1135.6,340.5h0.01M1142.5,353.5h0.01M1137.9,418.0h0.01M1134.0,313.0h0.01M1145.2,395.0h0.01M1175.7,367.5h0.01M1099.9,347.1h0.01M1125.1,375.8h0.01M1133.9,390.6h0.01M1112.1,388.1h0.01M1120.1,320.0h0.01M1101.5,348.3h0.01M1154.6,407.1h0.01M1169.1,409.4h0.01M1152.7,411.1h0.01M1118.1,402.7h0.01M1177.0,362.5h0.01M1169.0,320.9h0.01M1165.3,411.4h0.01M1112.1,354.5h0.01M1109.2,405.5h0.01M1110.5,372.9h0.01M1146.4,382.4h0.01M1092.0,339.2h0.01M1151.1,385.5h0.01" stroke="#6a2ee0" stroke-width="2.6" stroke-linecap="round" opacity="0.85" fill="none"/><path d="M1073,307L1126,297L1182,307M1073,307V415L1127,428L1182,415V307" stroke="#666" stroke-width="0.9" fill="none"/><path d="M1073,307L1127,318L1182,307M1127,318L1127,428" stroke="#444" stroke-width="1.0" fill="none" opacity="0.75"/><path d="M1073.2,302.9L1125.9,293.0" stroke="#111" stroke-width="1.5"/><path d="M1073.2,302.9L1076.8,303.8L1076.3,300.8ZM1125.9,293.0L1122.8,295.1L1122.3,292.1Z" fill="#111"/><path d="M1128.0,293.0L1182.4,303.8" stroke="#111" stroke-width="1.5"/><path d="M1128.0,293.0L1131.0,295.2L1131.6,292.2ZM1182.4,303.8L1178.8,304.6L1179.4,301.6Z" fill="#111"/><path d="M1070.0,311.4L1070.0,414.4" stroke="#111" stroke-width="1.5"/><path d="M1070.0,311.4L1068.5,314.8L1071.5,314.8ZM1070.0,414.4L1068.5,411.0L1071.5,411.0Z" fill="#111"/><text transform="translate(1099.6,297.9) rotate(-10.6) translate(0,-2.5)" text-anchor="middle" style="font-family:'Liberation Sans',sans-serif;font-size:6.8px;fill:#555">5.0nm</text><text transform="translate(1155.2,298.4) rotate(11.2) translate(0,-2.5)" text-anchor="middle" style="font-family:'Liberation Sans',sans-serif;font-size:6.8px;fill:#555">5.0nm</text><text transform="translate(1067.5,362.9) rotate(-90)" text-anchor="middle" style="font-family:'Liberation Sans',sans-serif;font-size:6.8px;fill:#555">2.0nm</text>
<path d="M1304.5,325.7L1328.0,339.0M1293.4,235.1L1291.2,265.8M1265.6,237.2L1302.0,225.4M1307.3,277.7L1328.0,283.6M1224.0,216.4L1249.5,212.7M1268.9,280.6L1288.1,284.9M1248.7,224.3L1269.8,232.6M1311.5,294.8L1316.0,331.1M1292.3,305.5L1310.2,318.7M1285.7,303.7L1315.0,301.4M1257.1,327.3L1293.0,331.4M1296.3,273.7L1328.0,266.3M1286.5,275.2L1308.5,271.3M1317.1,232.9L1313.2,257.7M1305.6,306.8L1328.0,296.0M1239.4,238.4L1276.5,236.9M1285.7,209.4L1290.0,231.9M1293.1,208.1L1305.9,228.9M1239.2,328.6L1260.3,317.5M1231.8,324.8L1264.6,322.6M1224.0,258.3L1249.8,256.5M1224.0,305.5L1242.4,303.3M1296.1,232.0L1316.1,230.2M1310.5,233.3L1328.0,227.4M1273.2,306.5L1301.0,305.6M1300.2,288.9L1302.8,322.5M1298.2,300.6L1323.4,302.0M1239.6,257.7L1236.0,279.0M1273.0,256.7L1295.3,265.9M1273.0,257.6L1299.3,271.9M1225.8,217.3L1257.2,219.2M1275.9,317.8L1277.6,342.0M1233.8,272.9L1266.9,262.9M1281.7,246.6L1310.5,241.1M1224.0,211.9L1239.8,219.1M1226.3,231.3L1248.9,237.2M1259.8,272.4L1296.2,268.5M1306.1,306.2L1328.0,302.4M1273.4,219.2L1294.2,215.9M1286.6,258.3L1323.5,257.4M1284.2,232.1L1289.0,264.1M1236.2,234.2L1239.2,266.1M1224.0,271.4L1244.5,266.2M1224.0,247.1L1253.7,247.7M1224.0,310.8L1249.0,304.5M1289.6,262.7L1311.0,260.4M1237.5,310.1L1234.0,329.5M1288.5,296.4L1294.1,324.6M1260.2,255.5L1264.4,283.5M1321.8,296.5L1317.5,331.5M1240.4,240.9L1272.6,240.4M1317.1,275.5L1315.2,296.5M1251.8,339.6L1272.6,337.9M1313.1,326.7L1314.9,342.0M1253.4,226.4L1259.5,255.0M1233.5,264.2L1244.0,296.3M1235.3,263.2L1239.2,291.0M1300.6,246.4L1290.4,279.1M1266.0,223.7L1300.1,235.4M1231.9,275.5L1258.8,277.1M1288.7,320.5L1303.7,341.3M1299.0,277.5L1300.2,313.1M1234.8,295.8L1264.4,285.2M1224.0,255.5L1239.3,285.4M1276.1,309.8L1304.7,321.2M1297.7,326.7L1328.0,321.8M1297.6,219.7L1305.6,253.4M1229.2,290.4L1253.2,288.4M1272.8,269.9L1291.9,271.7M1272.3,301.5L1276.9,334.8M1264.7,297.7L1284.4,297.1M1224.0,302.6L1251.7,312.4M1303.0,251.9L1303.6,273.7M1232.6,265.7L1254.6,254.1M1225.2,269.6L1232.8,295.1M1255.1,318.8L1285.9,326.1M1277.1,267.7L1271.8,292.2M1290.7,299.5L1289.3,326.2M1303.3,208.0L1314.2,239.8M1293.0,289.2L1316.2,293.8M1254.6,238.7L1289.3,242.8M1254.1,258.0L1274.7,257.3M1253.6,234.9L1290.2,229.8M1274.1,280.7L1266.8,305.1M1224.6,242.8L1250.5,240.1M1299.8,225.8L1308.9,255.8M1253.2,310.6L1279.6,322.2M1287.1,317.2L1301.3,342.0M1312.1,315.2L1310.8,342.0M1281.1,258.3L1303.7,257.7M1301.3,253.9L1328.0,258.7M1227.2,215.9L1253.2,213.3M1312.0,312.9L1320.2,335.2M1292.4,259.0L1323.6,262.8M1242.1,239.9L1242.8,263.0M1239.2,263.8L1264.9,265.8M1247.9,225.2L1255.4,258.3M1234.5,215.7L1233.3,243.1M1285.9,225.8L1319.6,230.2M1283.0,248.6L1290.2,274.4M1258.5,287.6L1288.5,293.0M1273.6,320.5L1285.8,342.0M1252.6,261.5L1290.7,265.9M1238.6,312.7L1242.0,342.0M1235.1,237.2L1235.8,263.1M1243.4,219.4L1245.8,240.2M1307.2,292.0L1328.0,296.2M1271.5,229.9L1291.8,227.6M1239.8,312.1L1254.5,342.0M1230.7,274.6L1252.1,273.4M1224.0,237.3L1253.9,238.9M1311.4,312.3L1309.4,341.2M1304.5,230.2L1327.5,233.5M1251.2,253.4L1277.2,244.8M1262.2,301.4L1270.2,324.8M1285.2,339.1L1317.7,335.6M1283.8,297.1L1306.4,293.4M1280.9,277.1L1286.4,310.1M1277.9,270.7L1313.0,273.0M1275.9,220.6L1294.9,211.2M1274.7,269.4L1303.4,291.9M1255.3,251.6L1289.7,245.1M1291.2,233.6L1299.4,259.4M1294.9,258.7L1299.4,279.8M1294.2,231.1L1296.6,260.6M1266.3,266.7L1265.0,289.8M1298.0,287.5L1306.3,312.0M1259.3,242.3L1287.5,244.8M1231.1,271.9L1261.8,270.2M1310.5,223.5L1310.7,255.4M1300.6,296.7L1325.3,299.9M1224.0,316.8L1240.5,328.0M1255.4,230.5L1261.9,257.0M1297.4,210.9L1318.6,215.8M1224.9,283.1L1260.0,294.2M1289.7,256.0L1290.2,292.8M1242.5,233.0L1242.5,265.7M1309.3,272.3L1314.6,301.1M1235.0,239.3L1266.1,237.2M1262.7,253.8L1268.4,279.9M1256.2,258.8L1291.0,260.5M1237.9,322.0L1235.5,342.0M1281.7,258.9L1310.0,265.9M1303.5,268.7L1302.8,302.0M1236.6,213.0L1261.9,215.4M1278.9,271.2L1280.4,308.4M1226.9,283.8L1248.7,281.0M1239.7,299.9L1276.0,291.2M1258.8,237.7L1265.4,271.3M1259.8,315.2L1266.0,342.0M1315.1,258.6L1313.0,293.8M1227.3,280.7L1230.3,313.5M1297.4,223.6L1324.1,218.0M1288.8,234.4L1319.0,229.2M1318.4,307.2L1323.2,326.6M1255.6,299.0L1247.8,324.8M1304.0,223.3L1326.5,227.1M1224.0,262.0L1240.9,263.8M1272.7,222.3L1308.4,213.2M1227.0,266.2L1253.3,265.1M1303.3,288.8L1328.0,279.6M1289.5,292.4L1320.0,295.4M1224.8,258.9L1255.7,252.9M1271.6,251.7L1293.8,234.4M1251.1,245.4L1286.1,245.5M1273.3,224.8L1302.1,208.0M1305.0,282.3L1328.0,279.9M1247.3,322.2L1278.8,316.7M1268.8,274.1L1293.9,284.8M1273.1,310.4L1280.0,341.4M1301.6,229.7L1328.0,222.3M1316.3,244.7L1325.5,277.3M1291.9,241.7L1297.8,273.1M1271.4,261.1L1309.3,265.5M1300.8,248.0L1310.3,278.2M1299.9,310.1L1306.5,341.4M1254.7,210.5L1278.3,221.8M1269.8,298.1L1302.3,311.6M1246.8,227.4L1271.7,215.2M1224.0,208.8L1250.7,217.9M1280.2,227.1L1312.9,208.0M1300.3,291.9L1323.7,293.6M1270.4,229.7L1303.1,234.8M1258.2,251.0L1287.2,242.5M1250.2,301.9L1252.2,336.6M1285.6,237.8L1309.0,241.8M1296.8,284.3L1324.8,288.1M1246.8,230.5L1278.7,237.5M1315.7,307.5L1317.9,330.6M1278.6,213.4L1312.5,209.0M1228.9,234.3L1264.9,235.0M1246.5,284.4L1268.0,283.8M1320.7,214.7L1319.3,252.3M1224.0,231.9L1244.2,228.0M1303.2,260.4L1307.9,296.4M1232.8,263.5L1263.2,265.2M1261.7,238.9L1283.3,233.8M1253.0,273.1L1246.9,307.2M1279.2,319.2L1300.7,320.3M1224.0,310.7L1256.4,309.7" stroke="#5898de" stroke-width="3.2" stroke-linecap="round" opacity="0.95" fill="none"/><path d="M1304.5,325.7L1328.0,339.0M1293.4,235.1L1291.2,265.8M1265.6,237.2L1302.0,225.4M1307.3,277.7L1328.0,283.6M1224.0,216.4L1249.5,212.7M1268.9,280.6L1288.1,284.9M1248.7,224.3L1269.8,232.6M1311.5,294.8L1316.0,331.1M1292.3,305.5L1310.2,318.7M1285.7,303.7L1315.0,301.4M1257.1,327.3L1293.0,331.4M1296.3,273.7L1328.0,266.3M1286.5,275.2L1308.5,271.3M1317.1,232.9L1313.2,257.7M1305.6,306.8L1328.0,296.0M1239.4,238.4L1276.5,236.9M1285.7,209.4L1290.0,231.9M1293.1,208.1L1305.9,228.9M1239.2,328.6L1260.3,317.5M1231.8,324.8L1264.6,322.6M1224.0,258.3L1249.8,256.5M1224.0,305.5L1242.4,303.3M1296.1,232.0L1316.1,230.2M1310.5,233.3L1328.0,227.4M1273.2,306.5L1301.0,305.6M1300.2,288.9L1302.8,322.5M1298.2,300.6L1323.4,302.0M1239.6,257.7L1236.0,279.0M1273.0,256.7L1295.3,265.9M1273.0,257.6L1299.3,271.9M1225.8,217.3L1257.2,219.2M1275.9,317.8L1277.6,342.0M1233.8,272.9L1266.9,262.9M1281.7,246.6L1310.5,241.1M1224.0,211.9L1239.8,219.1M1226.3,231.3L1248.9,237.2M1259.8,272.4L1296.2,268.5M1306.1,306.2L1328.0,302.4M1273.4,219.2L1294.2,215.9M1286.6,258.3L1323.5,257.4M1284.2,232.1L1289.0,264.1M1236.2,234.2L1239.2,266.1M1224.0,271.4L1244.5,266.2M1224.0,247.1L1253.7,247.7M1224.0,310.8L1249.0,304.5M1289.6,262.7L1311.0,260.4M1237.5,310.1L1234.0,329.5M1288.5,296.4L1294.1,324.6M1260.2,255.5L1264.4,283.5M1321.8,296.5L1317.5,331.5M1240.4,240.9L1272.6,240.4M1317.1,275.5L1315.2,296.5M1251.8,339.6L1272.6,337.9M1313.1,326.7L1314.9,342.0M1253.4,226.4L1259.5,255.0M1233.5,264.2L1244.0,296.3M1235.3,263.2L1239.2,291.0M1300.6,246.4L1290.4,279.1M1266.0,223.7L1300.1,235.4M1231.9,275.5L1258.8,277.1M1288.7,320.5L1303.7,341.3M1299.0,277.5L1300.2,313.1M1234.8,295.8L1264.4,285.2M1224.0,255.5L1239.3,285.4M1276.1,309.8L1304.7,321.2M1297.7,326.7L1328.0,321.8M1297.6,219.7L1305.6,253.4M1229.2,290.4L1253.2,288.4M1272.8,269.9L1291.9,271.7M1272.3,301.5L1276.9,334.8M1264.7,297.7L1284.4,297.1M1224.0,302.6L1251.7,312.4M1303.0,251.9L1303.6,273.7M1232.6,265.7L1254.6,254.1M1225.2,269.6L1232.8,295.1M1255.1,318.8L1285.9,326.1M1277.1,267.7L1271.8,292.2M1290.7,299.5L1289.3,326.2M1303.3,208.0L1314.2,239.8M1293.0,289.2L1316.2,293.8M1254.6,238.7L1289.3,242.8M1254.1,258.0L1274.7,257.3M1253.6,234.9L1290.2,229.8M1274.1,280.7L1266.8,305.1M1224.6,242.8L1250.5,240.1M1299.8,225.8L1308.9,255.8M1253.2,310.6L1279.6,322.2M1287.1,317.2L1301.3,342.0M1312.1,315.2L1310.8,342.0M1281.1,258.3L1303.7,257.7M1301.3,253.9L1328.0,258.7M1227.2,215.9L1253.2,213.3M1312.0,312.9L1320.2,335.2M1292.4,259.0L1323.6,262.8M1242.1,239.9L1242.8,263.0M1239.2,263.8L1264.9,265.8M1247.9,225.2L1255.4,258.3M1234.5,215.7L1233.3,243.1M1285.9,225.8L1319.6,230.2M1283.0,248.6L1290.2,274.4M1258.5,287.6L1288.5,293.0M1273.6,320.5L1285.8,342.0M1252.6,261.5L1290.7,265.9M1238.6,312.7L1242.0,342.0M1235.1,237.2L1235.8,263.1M1243.4,219.4L1245.8,240.2M1307.2,292.0L1328.0,296.2M1271.5,229.9L1291.8,227.6M1239.8,312.1L1254.5,342.0M1230.7,274.6L1252.1,273.4M1224.0,237.3L1253.9,238.9M1311.4,312.3L1309.4,341.2M1304.5,230.2L1327.5,233.5M1251.2,253.4L1277.2,244.8M1262.2,301.4L1270.2,324.8M1285.2,339.1L1317.7,335.6M1283.8,297.1L1306.4,293.4M1280.9,277.1L1286.4,310.1M1277.9,270.7L1313.0,273.0M1275.9,220.6L1294.9,211.2M1274.7,269.4L1303.4,291.9M1255.3,251.6L1289.7,245.1M1291.2,233.6L1299.4,259.4M1294.9,258.7L1299.4,279.8M1294.2,231.1L1296.6,260.6M1266.3,266.7L1265.0,289.8M1298.0,287.5L1306.3,312.0M1259.3,242.3L1287.5,244.8M1231.1,271.9L1261.8,270.2M1310.5,223.5L1310.7,255.4M1300.6,296.7L1325.3,299.9M1224.0,316.8L1240.5,328.0M1255.4,230.5L1261.9,257.0M1297.4,210.9L1318.6,215.8M1224.9,283.1L1260.0,294.2M1289.7,256.0L1290.2,292.8M1242.5,233.0L1242.5,265.7M1309.3,272.3L1314.6,301.1M1235.0,239.3L1266.1,237.2M1262.7,253.8L1268.4,279.9M1256.2,258.8L1291.0,260.5M1237.9,322.0L1235.5,342.0M1281.7,258.9L1310.0,265.9M1303.5,268.7L1302.8,302.0M1236.6,213.0L1261.9,215.4M1278.9,271.2L1280.4,308.4M1226.9,283.8L1248.7,281.0M1239.7,299.9L1276.0,291.2M1258.8,237.7L1265.4,271.3M1259.8,315.2L1266.0,342.0M1315.1,258.6L1313.0,293.8M1227.3,280.7L1230.3,313.5M1297.4,223.6L1324.1,218.0M1288.8,234.4L1319.0,229.2M1318.4,307.2L1323.2,326.6M1255.6,299.0L1247.8,324.8M1304.0,223.3L1326.5,227.1M1224.0,262.0L1240.9,263.8M1272.7,222.3L1308.4,213.2M1227.0,266.2L1253.3,265.1M1303.3,288.8L1328.0,279.6M1289.5,292.4L1320.0,295.4M1224.8,258.9L1255.7,252.9M1271.6,251.7L1293.8,234.4M1251.1,245.4L1286.1,245.5M1273.3,224.8L1302.1,208.0M1305.0,282.3L1328.0,279.9M1247.3,322.2L1278.8,316.7M1268.8,274.1L1293.9,284.8M1273.1,310.4L1280.0,341.4M1301.6,229.7L1328.0,222.3M1316.3,244.7L1325.5,277.3M1291.9,241.7L1297.8,273.1M1271.4,261.1L1309.3,265.5M1300.8,248.0L1310.3,278.2M1299.9,310.1L1306.5,341.4M1254.7,210.5L1278.3,221.8M1269.8,298.1L1302.3,311.6M1246.8,227.4L1271.7,215.2M1224.0,208.8L1250.7,217.9M1280.2,227.1L1312.9,208.0M1300.3,291.9L1323.7,293.6M1270.4,229.7L1303.1,234.8M1258.2,251.0L1287.2,242.5M1250.2,301.9L1252.2,336.6M1285.6,237.8L1309.0,241.8M1296.8,284.3L1324.8,288.1M1246.8,230.5L1278.7,237.5M1315.7,307.5L1317.9,330.6M1278.6,213.4L1312.5,209.0M1228.9,234.3L1264.9,235.0M1246.5,284.4L1268.0,283.8M1320.7,214.7L1319.3,252.3M1224.0,231.9L1244.2,228.0M1303.2,260.4L1307.9,296.4M1232.8,263.5L1263.2,265.2M1261.7,238.9L1283.3,233.8M1253.0,273.1L1246.9,307.2M1279.2,319.2L1300.7,320.3M1224.0,310.7L1256.4,309.7" stroke="#e0eaf6" stroke-width="1.0" stroke-dasharray="1.1 1.9" opacity="0.8" fill="none"/><path d="M1304.5,325.7h0.01M1265.6,237.2h0.01M1224.0,216.4h0.01M1248.7,224.3h0.01M1292.3,305.5h0.01M1257.1,327.3h0.01M1286.5,275.2h0.01M1305.6,306.8h0.01M1285.7,209.4h0.01M1239.2,328.6h0.01M1224.0,258.3h0.01M1296.1,232.0h0.01M1273.2,306.5h0.01M1298.2,300.6h0.01M1273.0,256.7h0.01M1225.8,217.3h0.01M1233.8,272.9h0.01M1224.0,211.9h0.01M1259.8,272.4h0.01M1273.4,219.2h0.01M1284.2,232.1h0.01M1224.0,271.4h0.01M1224.0,310.8h0.01M1237.5,310.1h0.01M1260.2,255.5h0.01M1240.4,240.9h0.01M1251.8,339.6h0.01M1253.4,226.4h0.01M1235.3,263.2h0.01M1266.0,223.7h0.01M1288.7,320.5h0.01M1234.8,295.8h0.01M1276.1,309.8h0.01M1297.6,219.7h0.01M1272.8,269.9h0.01M1264.7,297.7h0.01M1303.0,251.9h0.01M1225.2,269.6h0.01M1277.1,267.7h0.01M1303.3,208.0h0.01M1254.6,238.7h0.01M1253.6,234.9h0.01M1224.6,242.8h0.01M1253.2,310.6h0.01M1312.1,315.2h0.01M1301.3,253.9h0.01M1312.0,312.9h0.01M1242.1,239.9h0.01M1247.9,225.2h0.01M1285.9,225.8h0.01M1258.5,287.6h0.01M1252.6,261.5h0.01M1235.1,237.2h0.01M1307.2,292.0h0.01M1239.8,312.1h0.01M1224.0,237.3h0.01M1304.5,230.2h0.01M1262.2,301.4h0.01M1283.8,297.1h0.01M1277.9,270.7h0.01M1274.7,269.4h0.01M1291.2,233.6h0.01M1294.2,231.1h0.01M1298.0,287.5h0.01M1231.1,271.9h0.01M1300.6,296.7h0.01M1255.4,230.5h0.01M1224.9,283.1h0.01M1242.5,233.0h0.01M1235.0,239.3h0.01M1256.2,258.8h0.01M1281.7,258.9h0.01M1236.6,213.0h0.01M1226.9,283.8h0.01M1258.8,237.7h0.01M1315.1,258.6h0.01M1297.4,223.6h0.01M1318.4,307.2h0.01M1304.0,223.3h0.01M1272.7,222.3h0.01M1303.3,288.8h0.01M1224.8,258.9h0.01M1251.1,245.4h0.01M1305.0,282.3h0.01M1268.8,274.1h0.01M1301.6,229.7h0.01M1291.9,241.7h0.01M1300.8,248.0h0.01M1254.7,210.5h0.01M1246.8,227.4h0.01M1280.2,227.1h0.01M1270.4,229.7h0.01M1250.2,301.9h0.01M1296.8,284.3h0.01M1315.7,307.5h0.01M1228.9,234.3h0.01M1320.7,214.7h0.01M1303.2,260.4h0.01M1261.7,238.9h0.01M1279.2,319.2h0.01M1291.2,265.8h0.01M1249.5,212.7h0.01M1316.0,331.1h0.01M1293.0,331.4h0.01M1313.2,257.7h0.01M1290.0,231.9h0.01M1264.6,322.6h0.01M1316.1,230.2h0.01M1302.8,322.5h0.01M1295.3,265.9h0.01M1277.6,342.0h0.01M1239.8,219.1h0.01M1328.0,302.4h0.01M1289.0,264.1h0.01M1253.7,247.7h0.01M1234.0,329.5h0.01M1317.5,331.5h0.01M1272.6,337.9h0.01M1244.0,296.3h0.01M1300.1,235.4h0.01M1300.2,313.1h0.01M1304.7,321.2h0.01M1253.2,288.4h0.01M1284.4,297.1h0.01M1254.6,254.1h0.01M1271.8,292.2h0.01M1316.2,293.8h0.01M1290.2,229.8h0.01M1308.9,255.8h0.01M1310.8,342.0h0.01M1253.2,213.3h0.01M1242.8,263.0h0.01M1233.3,243.1h0.01M1288.5,293.0h0.01M1242.0,342.0h0.01M1328.0,296.2h0.01M1252.1,273.4h0.01M1327.5,233.5h0.01M1317.7,335.6h0.01M1313.0,273.0h0.01M1289.7,245.1h0.01M1296.6,260.6h0.01M1287.5,244.8h0.01M1325.3,299.9h0.01M1318.6,215.8h0.01M1242.5,265.7h0.01M1268.4,279.9h0.01M1310.0,265.9h0.01M1280.4,308.4h0.01M1265.4,271.3h0.01M1230.3,313.5h0.01M1323.2,326.6h0.01M1240.9,263.8h0.01M1328.0,279.6h0.01M1293.8,234.4h0.01M1328.0,279.9h0.01M1280.0,341.4h0.01M1297.8,273.1h0.01M1306.5,341.4h0.01M1271.7,215.2h0.01M1323.7,293.6h0.01M1252.2,336.6h0.01M1278.7,237.5h0.01M1264.9,235.0h0.01M1244.2,228.0h0.01M1283.3,233.8h0.01M1256.4,309.7h0.01" stroke="#6a2ee0" stroke-width="2.6" stroke-linecap="round" opacity="0.85" fill="none"/><path d="M1216,210L1272,197L1334,210M1216,210V335L1273,348.5L1334,335V210" stroke="#666" stroke-width="0.9" fill="none"/><path d="M1216,210L1273,222L1334,210M1273,197L1273,348.5" stroke="#444" stroke-width="1.0" fill="none" opacity="0.75"/><path d="M1216.4,205.8L1271.6,192.4" stroke="#111" stroke-width="1.5"/><path d="M1216.4,205.8L1220.1,206.5L1219.3,203.5ZM1271.6,192.4L1268.7,194.7L1267.9,191.7Z" fill="#111"/><path d="M1274.5,192.4L1335.8,205.8" stroke="#111" stroke-width="1.5"/><path d="M1274.5,192.4L1277.5,194.6L1278.1,191.6ZM1335.8,205.8L1332.2,206.6L1332.8,203.6Z" fill="#111"/><path d="M1213.4,211.8L1213.4,335.7" stroke="#111" stroke-width="1.5"/><path d="M1213.4,211.8L1211.9,215.2L1214.9,215.2ZM1213.4,335.7L1211.9,332.3L1214.9,332.3Z" fill="#111"/><text transform="translate(1244.0,199.1) rotate(-13.6) translate(0,-2.5)" text-anchor="middle" style="font-family:'Liberation Sans',sans-serif;font-size:6.8px;fill:#555">5.0nm</text><text transform="translate(1305.2,199.1) rotate(12.3) translate(0,-2.5)" text-anchor="middle" style="font-family:'Liberation Sans',sans-serif;font-size:6.8px;fill:#555">5.0nm</text><text transform="translate(1210.9,273.8) rotate(-90)" text-anchor="middle" style="font-family:'Liberation Sans',sans-serif;font-size:6.8px;fill:#555">3.2nm</text>
<path d="M1416.3,226.3L1441.5,230.6M1399.0,270.9L1418.8,278.1M1502.9,227.6L1516.0,206.1M1454.5,268.1L1489.9,290.4M1466.3,160.5L1486.0,145.6M1478.2,229.2L1516.0,205.2M1461.7,274.5L1500.0,300.8M1484.5,155.5L1513.1,161.1M1492.8,205.2L1516.0,217.8M1426.0,217.9L1456.5,251.9M1463.5,287.2L1491.2,290.5M1479.7,302.3L1513.9,286.6M1470.7,183.9L1490.9,168.4M1476.1,290.2L1516.0,303.0M1437.2,159.9L1458.3,173.5M1462.8,164.3L1477.1,140.0M1489.6,288.1L1508.4,303.0M1453.5,140.0L1483.2,156.0M1451.2,152.8L1487.9,182.2M1483.4,196.8L1516.0,207.8M1455.1,236.9L1491.3,236.2M1434.4,255.9L1465.6,256.3M1496.5,211.1L1516.0,238.5M1399.0,233.3L1416.2,246.0M1455.8,230.1L1486.9,202.3M1399.0,151.6L1429.0,153.4M1415.7,208.8L1445.0,220.5M1431.2,225.1L1455.2,247.9M1474.1,140.5L1500.2,153.9M1473.9,176.3L1507.3,184.6M1462.2,155.3L1496.0,162.7M1485.4,153.0L1507.1,186.1M1489.2,203.9L1509.7,223.7M1479.8,264.1L1502.1,285.1M1477.4,251.3L1504.6,236.3M1475.8,175.5L1503.3,195.6M1427.1,216.0L1470.4,198.6M1478.7,286.2L1516.0,303.0M1486.0,180.3L1516.0,175.5M1421.8,195.0L1447.2,198.1M1447.9,181.5L1486.4,194.6M1485.1,287.3L1516.0,280.2M1399.0,253.5L1421.5,266.5M1438.4,277.6L1457.8,303.0M1418.3,270.7L1442.7,285.9M1440.3,266.4L1482.2,276.1M1481.2,267.5L1516.0,271.6M1399.0,176.5L1424.3,194.7M1436.1,221.0L1462.1,213.5M1399.0,162.4L1437.1,145.1M1399.0,214.3L1430.7,229.3M1455.3,188.7L1478.5,210.6M1404.1,237.1L1428.9,223.4M1427.9,242.8L1459.5,233.0M1470.6,235.6L1510.1,246.0M1437.9,241.8L1459.7,262.2M1439.4,247.3L1483.4,257.0M1484.2,206.7L1516.0,196.8M1413.8,201.8L1449.3,230.0M1477.4,262.2L1501.4,233.4M1405.7,226.1L1422.8,244.4M1399.0,157.5L1427.1,159.6M1399.0,260.1L1421.7,290.1M1498.5,243.1L1515.2,224.7M1463.5,222.0L1509.8,224.6M1399.0,178.0L1424.8,209.8M1412.8,169.1L1446.0,173.3M1426.3,202.5L1459.8,208.1M1403.4,232.4L1420.8,210.7M1460.2,263.5L1496.4,259.9M1435.7,250.3L1475.7,237.6M1486.0,212.4L1516.0,236.0M1409.1,180.9L1437.5,189.0M1459.2,285.4L1497.4,300.0M1437.1,271.4L1458.9,282.7M1442.9,192.5L1467.7,213.7M1425.3,250.2L1450.9,278.9M1437.0,281.7L1471.1,266.4M1440.1,274.0L1470.8,238.3M1439.4,164.5L1468.5,193.6M1462.6,299.2L1490.6,287.8M1400.9,257.6L1445.9,249.7M1417.8,277.9L1443.8,279.7M1400.9,263.1L1425.3,284.7M1449.4,243.2L1483.1,254.9M1409.3,236.1L1442.5,233.6M1441.7,152.4L1483.0,171.1M1488.0,166.8L1516.0,149.6M1466.5,255.4L1507.9,268.4M1418.8,276.6L1445.1,246.3M1441.8,156.5L1481.1,165.1M1452.3,156.5L1477.2,186.7M1409.0,280.3L1436.0,285.2M1428.8,240.6L1449.4,271.7M1456.0,204.1L1491.1,225.6M1469.6,232.8L1500.9,223.7M1417.0,203.2L1446.9,203.2M1472.8,189.2L1500.8,208.0M1449.3,255.8L1474.7,272.6M1399.0,171.3L1431.6,150.0M1404.5,163.1L1441.8,182.3M1453.2,166.7L1481.8,165.3M1449.7,226.3L1471.4,238.2M1474.3,279.4L1506.8,286.4M1454.2,221.8L1472.3,247.2M1477.9,210.3L1515.5,227.7M1399.0,276.8L1415.1,251.1M1408.4,217.2L1439.7,235.1M1467.4,200.5L1479.4,225.0M1474.0,235.4L1504.8,246.3M1411.9,140.1L1445.0,170.4M1462.2,173.8L1495.3,154.3M1487.1,271.2L1516.0,239.6M1479.2,209.3L1514.6,213.9M1399.6,140.2L1430.2,159.2M1463.7,215.1L1494.7,239.7M1417.1,228.4L1455.3,203.4M1466.4,190.1L1496.5,211.1M1457.0,170.0L1479.1,186.3M1445.6,161.8L1460.6,185.5M1432.7,158.7L1461.3,180.1M1399.0,140.0L1423.3,156.3M1458.4,140.9L1501.0,161.2M1414.9,150.6L1438.8,165.0M1462.1,184.9L1479.6,209.9M1473.6,219.5L1504.1,212.7M1419.6,192.4L1440.9,177.1M1465.9,291.6L1488.9,298.7M1399.0,146.0L1422.7,168.4M1484.6,181.0L1516.0,168.0M1471.4,289.1L1509.8,284.9M1487.3,145.1L1516.0,168.5M1401.7,201.3L1429.3,207.1M1475.6,275.1L1491.6,241.4M1488.7,190.4L1516.0,209.5M1413.5,165.8L1451.2,173.5M1471.6,195.2L1489.3,212.3M1440.7,261.4L1467.0,262.8M1418.6,261.4L1439.1,289.5M1484.4,256.8L1516.0,259.4M1399.0,206.2L1424.2,205.1M1402.5,236.4L1421.1,253.4M1401.8,228.7L1437.4,259.7M1408.4,220.8L1445.6,241.8M1458.0,259.8L1479.8,273.8M1474.5,145.9L1511.4,175.4M1403.7,276.9L1445.7,289.6M1449.0,251.4L1491.2,236.1M1429.4,222.3L1452.1,253.1M1480.4,162.0L1503.2,188.7M1465.1,148.1L1499.6,162.1M1466.3,200.0L1500.0,218.8M1415.5,205.3L1437.2,190.8M1406.1,170.6L1447.4,167.3M1487.0,285.2L1509.7,303.0M1491.5,294.6L1516.0,275.0M1464.3,210.2L1510.3,203.5M1409.8,166.0L1436.4,150.1M1444.5,235.2L1474.8,251.5M1428.6,269.2L1452.6,249.8M1399.0,177.1L1431.1,202.8M1457.9,303.0L1500.8,289.5M1425.3,165.7L1461.9,171.0M1427.6,267.2L1456.9,286.6M1489.2,263.6L1510.1,275.8M1410.3,214.3L1424.4,238.4M1403.8,195.9L1413.1,154.1M1500.3,140.9L1516.0,156.1M1435.5,190.4L1464.8,201.8M1416.4,262.2L1443.5,275.7M1399.0,206.1L1429.1,214.8M1420.0,183.3L1439.9,145.3M1447.6,268.0L1469.4,279.0M1455.8,287.2L1490.4,280.5M1461.5,300.4L1489.6,277.2M1402.1,185.6L1441.1,157.9M1445.2,207.4L1480.1,206.7M1493.0,156.3L1516.0,178.5M1435.5,276.2L1460.3,277.1M1451.1,224.4L1480.2,234.2M1463.3,279.7L1497.3,292.5M1486.7,290.3L1514.5,297.3M1491.0,162.5L1515.7,180.3M1490.4,286.7L1516.0,295.6M1421.7,155.1L1445.7,172.2M1406.3,145.7L1443.3,165.2M1471.0,244.8L1516.0,239.4M1399.0,177.6L1423.9,192.4M1444.5,140.0L1480.6,164.4M1404.6,303.0L1440.2,290.2M1399.0,158.0L1439.4,145.1M1480.3,154.3L1516.0,147.1M1434.7,150.6L1454.7,169.0M1399.0,152.3L1439.2,173.6M1399.0,165.0L1423.9,181.3M1423.5,282.8L1459.7,301.8M1420.6,140.0L1453.7,155.3M1435.2,227.9L1472.0,227.1M1486.5,162.3L1501.1,186.6M1493.3,271.0L1516.0,278.8" stroke="#5898de" stroke-width="3.2" stroke-linecap="round" opacity="0.95" fill="none"/><path d="M1416.3,226.3L1441.5,230.6M1399.0,270.9L1418.8,278.1M1502.9,227.6L1516.0,206.1M1454.5,268.1L1489.9,290.4M1466.3,160.5L1486.0,145.6M1478.2,229.2L1516.0,205.2M1461.7,274.5L1500.0,300.8M1484.5,155.5L1513.1,161.1M1492.8,205.2L1516.0,217.8M1426.0,217.9L1456.5,251.9M1463.5,287.2L1491.2,290.5M1479.7,302.3L1513.9,286.6M1470.7,183.9L1490.9,168.4M1476.1,290.2L1516.0,303.0M1437.2,159.9L1458.3,173.5M1462.8,164.3L1477.1,140.0M1489.6,288.1L1508.4,303.0M1453.5,140.0L1483.2,156.0M1451.2,152.8L1487.9,182.2M1483.4,196.8L1516.0,207.8M1455.1,236.9L1491.3,236.2M1434.4,255.9L1465.6,256.3M1496.5,211.1L1516.0,238.5M1399.0,233.3L1416.2,246.0M1455.8,230.1L1486.9,202.3M1399.0,151.6L1429.0,153.4M1415.7,208.8L1445.0,220.5M1431.2,225.1L1455.2,247.9M1474.1,140.5L1500.2,153.9M1473.9,176.3L1507.3,184.6M1462.2,155.3L1496.0,162.7M1485.4,153.0L1507.1,186.1M1489.2,203.9L1509.7,223.7M1479.8,264.1L1502.1,285.1M1477.4,251.3L1504.6,236.3M1475.8,175.5L1503.3,195.6M1427.1,216.0L1470.4,198.6M1478.7,286.2L1516.0,303.0M1486.0,180.3L1516.0,175.5M1421.8,195.0L1447.2,198.1M1447.9,181.5L1486.4,194.6M1485.1,287.3L1516.0,280.2M1399.0,253.5L1421.5,266.5M1438.4,277.6L1457.8,303.0M1418.3,270.7L1442.7,285.9M1440.3,266.4L1482.2,276.1M1481.2,267.5L1516.0,271.6M1399.0,176.5L1424.3,194.7M1436.1,221.0L1462.1,213.5M1399.0,162.4L1437.1,145.1M1399.0,214.3L1430.7,229.3M1455.3,188.7L1478.5,210.6M1404.1,237.1L1428.9,223.4M1427.9,242.8L1459.5,233.0M1470.6,235.6L1510.1,246.0M1437.9,241.8L1459.7,262.2M1439.4,247.3L1483.4,257.0M1484.2,206.7L1516.0,196.8M1413.8,201.8L1449.3,230.0M1477.4,262.2L1501.4,233.4M1405.7,226.1L1422.8,244.4M1399.0,157.5L1427.1,159.6M1399.0,260.1L1421.7,290.1M1498.5,243.1L1515.2,224.7M1463.5,222.0L1509.8,224.6M1399.0,178.0L1424.8,209.8M1412.8,169.1L1446.0,173.3M1426.3,202.5L1459.8,208.1M1403.4,232.4L1420.8,210.7M1460.2,263.5L1496.4,259.9M1435.7,250.3L1475.7,237.6M1486.0,212.4L1516.0,236.0M1409.1,180.9L1437.5,189.0M1459.2,285.4L1497.4,300.0M1437.1,271.4L1458.9,282.7M1442.9,192.5L1467.7,213.7M1425.3,250.2L1450.9,278.9M1437.0,281.7L1471.1,266.4M1440.1,274.0L1470.8,238.3M1439.4,164.5L1468.5,193.6M1462.6,299.2L1490.6,287.8M1400.9,257.6L1445.9,249.7M1417.8,277.9L1443.8,279.7M1400.9,263.1L1425.3,284.7M1449.4,243.2L1483.1,254.9M1409.3,236.1L1442.5,233.6M1441.7,152.4L1483.0,171.1M1488.0,166.8L1516.0,149.6M1466.5,255.4L1507.9,268.4M1418.8,276.6L1445.1,246.3M1441.8,156.5L1481.1,165.1M1452.3,156.5L1477.2,186.7M1409.0,280.3L1436.0,285.2M1428.8,240.6L1449.4,271.7M1456.0,204.1L1491.1,225.6M1469.6,232.8L1500.9,223.7M1417.0,203.2L1446.9,203.2M1472.8,189.2L1500.8,208.0M1449.3,255.8L1474.7,272.6M1399.0,171.3L1431.6,150.0M1404.5,163.1L1441.8,182.3M1453.2,166.7L1481.8,165.3M1449.7,226.3L1471.4,238.2M1474.3,279.4L1506.8,286.4M1454.2,221.8L1472.3,247.2M1477.9,210.3L1515.5,227.7M1399.0,276.8L1415.1,251.1M1408.4,217.2L1439.7,235.1M1467.4,200.5L1479.4,225.0M1474.0,235.4L1504.8,246.3M1411.9,140.1L1445.0,170.4M1462.2,173.8L1495.3,154.3M1487.1,271.2L1516.0,239.6M1479.2,209.3L1514.6,213.9M1399.6,140.2L1430.2,159.2M1463.7,215.1L1494.7,239.7M1417.1,228.4L1455.3,203.4M1466.4,190.1L1496.5,211.1M1457.0,170.0L1479.1,186.3M1445.6,161.8L1460.6,185.5M1432.7,158.7L1461.3,180.1M1399.0,140.0L1423.3,156.3M1458.4,140.9L1501.0,161.2M1414.9,150.6L1438.8,165.0M1462.1,184.9L1479.6,209.9M1473.6,219.5L1504.1,212.7M1419.6,192.4L1440.9,177.1M1465.9,291.6L1488.9,298.7M1399.0,146.0L1422.7,168.4M1484.6,181.0L1516.0,168.0M1471.4,289.1L1509.8,284.9M1487.3,145.1L1516.0,168.5M1401.7,201.3L1429.3,207.1M1475.6,275.1L1491.6,241.4M1488.7,190.4L1516.0,209.5M1413.5,165.8L1451.2,173.5M1471.6,195.2L1489.3,212.3M1440.7,261.4L1467.0,262.8M1418.6,261.4L1439.1,289.5M1484.4,256.8L1516.0,259.4M1399.0,206.2L1424.2,205.1M1402.5,236.4L1421.1,253.4M1401.8,228.7L1437.4,259.7M1408.4,220.8L1445.6,241.8M1458.0,259.8L1479.8,273.8M1474.5,145.9L1511.4,175.4M1403.7,276.9L1445.7,289.6M1449.0,251.4L1491.2,236.1M1429.4,222.3L1452.1,253.1M1480.4,162.0L1503.2,188.7M1465.1,148.1L1499.6,162.1M1466.3,200.0L1500.0,218.8M1415.5,205.3L1437.2,190.8M1406.1,170.6L1447.4,167.3M1487.0,285.2L1509.7,303.0M1491.5,294.6L1516.0,275.0M1464.3,210.2L1510.3,203.5M1409.8,166.0L1436.4,150.1M1444.5,235.2L1474.8,251.5M1428.6,269.2L1452.6,249.8M1399.0,177.1L1431.1,202.8M1457.9,303.0L1500.8,289.5M1425.3,165.7L1461.9,171.0M1427.6,267.2L1456.9,286.6M1489.2,263.6L1510.1,275.8M1410.3,214.3L1424.4,238.4M1403.8,195.9L1413.1,154.1M1500.3,140.9L1516.0,156.1M1435.5,190.4L1464.8,201.8M1416.4,262.2L1443.5,275.7M1399.0,206.1L1429.1,214.8M1420.0,183.3L1439.9,145.3M1447.6,268.0L1469.4,279.0M1455.8,287.2L1490.4,280.5M1461.5,300.4L1489.6,277.2M1402.1,185.6L1441.1,157.9M1445.2,207.4L1480.1,206.7M1493.0,156.3L1516.0,178.5M1435.5,276.2L1460.3,277.1M1451.1,224.4L1480.2,234.2M1463.3,279.7L1497.3,292.5M1486.7,290.3L1514.5,297.3M1491.0,162.5L1515.7,180.3M1490.4,286.7L1516.0,295.6M1421.7,155.1L1445.7,172.2M1406.3,145.7L1443.3,165.2M1471.0,244.8L1516.0,239.4M1399.0,177.6L1423.9,192.4M1444.5,140.0L1480.6,164.4M1404.6,303.0L1440.2,290.2M1399.0,158.0L1439.4,145.1M1480.3,154.3L1516.0,147.1M1434.7,150.6L1454.7,169.0M1399.0,152.3L1439.2,173.6M1399.0,165.0L1423.9,181.3M1423.5,282.8L1459.7,301.8M1420.6,140.0L1453.7,155.3M1435.2,227.9L1472.0,227.1M1486.5,162.3L1501.1,186.6M1493.3,271.0L1516.0,278.8" stroke="#e0eaf6" stroke-width="1.0" stroke-dasharray="1.1 1.9" opacity="0.8" fill="none"/><path d="M1416.3,226.3h0.01M1502.9,227.6h0.01M1466.3,160.5h0.01M1461.7,274.5h0.01M1492.8,205.2h0.01M1463.5,287.2h0.01M1470.7,183.9h0.01M1437.2,159.9h0.01M1489.6,288.1h0.01M1451.2,152.8h0.01M1455.1,236.9h0.01M1496.5,211.1h0.01M1455.8,230.1h0.01M1415.7,208.8h0.01M1474.1,140.5h0.01M1462.2,155.3h0.01M1489.2,203.9h0.01M1477.4,251.3h0.01M1427.1,216.0h0.01M1486.0,180.3h0.01M1447.9,181.5h0.01M1399.0,253.5h0.01M1418.3,270.7h0.01M1481.2,267.5h0.01M1436.1,221.0h0.01M1399.0,214.3h0.01M1404.1,237.1h0.01M1470.6,235.6h0.01M1439.4,247.3h0.01M1413.8,201.8h0.01M1405.7,226.1h0.01M1399.0,260.1h0.01M1463.5,222.0h0.01M1412.8,169.1h0.01M1403.4,232.4h0.01M1435.7,250.3h0.01M1409.1,180.9h0.01M1437.1,271.4h0.01M1425.3,250.2h0.01M1440.1,274.0h0.01M1462.6,299.2h0.01M1417.8,277.9h0.01M1449.4,243.2h0.01M1441.7,152.4h0.01M1466.5,255.4h0.01M1441.8,156.5h0.01M1409.0,280.3h0.01M1456.0,204.1h0.01M1417.0,203.2h0.01M1449.3,255.8h0.01M1404.5,163.1h0.01M1449.7,226.3h0.01M1454.2,221.8h0.01M1399.0,276.8h0.01M1467.4,200.5h0.01M1411.9,140.1h0.01M1487.1,271.2h0.01M1399.6,140.2h0.01M1417.1,228.4h0.01M1457.0,170.0h0.01M1432.7,158.7h0.01M1458.4,140.9h0.01M1462.1,184.9h0.01M1419.6,192.4h0.01M1399.0,146.0h0.01M1471.4,289.1h0.01M1401.7,201.3h0.01M1488.7,190.4h0.01M1471.6,195.2h0.01M1418.6,261.4h0.01M1399.0,206.2h0.01M1401.8,228.7h0.01M1458.0,259.8h0.01M1403.7,276.9h0.01M1429.4,222.3h0.01M1465.1,148.1h0.01M1415.5,205.3h0.01M1487.0,285.2h0.01M1464.3,210.2h0.01M1444.5,235.2h0.01M1399.0,177.1h0.01M1425.3,165.7h0.01M1489.2,263.6h0.01M1403.8,195.9h0.01M1435.5,190.4h0.01M1399.0,206.1h0.01M1447.6,268.0h0.01M1461.5,300.4h0.01M1445.2,207.4h0.01M1435.5,276.2h0.01M1463.3,279.7h0.01M1491.0,162.5h0.01M1421.7,155.1h0.01M1471.0,244.8h0.01M1444.5,140.0h0.01M1399.0,158.0h0.01M1434.7,150.6h0.01M1399.0,165.0h0.01M1420.6,140.0h0.01M1486.5,162.3h0.01M1418.8,278.1h0.01M1486.0,145.6h0.01M1513.1,161.1h0.01M1491.2,290.5h0.01M1516.0,303.0h0.01M1508.4,303.0h0.01M1516.0,207.8h0.01M1516.0,238.5h0.01M1429.0,153.4h0.01M1500.2,153.9h0.01M1507.1,186.1h0.01M1504.6,236.3h0.01M1516.0,303.0h0.01M1486.4,194.6h0.01M1457.8,303.0h0.01M1516.0,271.6h0.01M1437.1,145.1h0.01M1428.9,223.4h0.01M1459.7,262.2h0.01M1449.3,230.0h0.01M1427.1,159.6h0.01M1509.8,224.6h0.01M1459.8,208.1h0.01M1475.7,237.6h0.01M1497.4,300.0h0.01M1450.9,278.9h0.01M1468.5,193.6h0.01M1443.8,279.7h0.01M1442.5,233.6h0.01M1507.9,268.4h0.01M1477.2,186.7h0.01M1491.1,225.6h0.01M1500.8,208.0h0.01M1441.8,182.3h0.01M1506.8,286.4h0.01M1415.1,251.1h0.01M1504.8,246.3h0.01M1516.0,239.6h0.01M1494.7,239.7h0.01M1479.1,186.3h0.01M1423.3,156.3h0.01M1479.6,209.9h0.01M1488.9,298.7h0.01M1509.8,284.9h0.01M1491.6,241.4h0.01M1489.3,212.3h0.01M1516.0,259.4h0.01M1437.4,259.7h0.01M1511.4,175.4h0.01M1452.1,253.1h0.01M1500.0,218.8h0.01M1509.7,303.0h0.01M1436.4,150.1h0.01M1431.1,202.8h0.01M1456.9,286.6h0.01M1413.1,154.1h0.01M1443.5,275.7h0.01M1469.4,279.0h0.01M1441.1,157.9h0.01M1460.3,277.1h0.01M1514.5,297.3h0.01M1445.7,172.2h0.01M1423.9,192.4h0.01M1439.4,145.1h0.01M1439.2,173.6h0.01M1453.7,155.3h0.01M1516.0,278.8h0.01" stroke="#6a2ee0" stroke-width="2.6" stroke-linecap="round" opacity="0.85" fill="none"/><path d="M1389.8,150L1456,135L1524.3,146M1389.8,150V299.6L1459,316L1524.3,298V146" stroke="#666" stroke-width="0.9" fill="none"/><path d="M1389.8,150L1459,162.8L1524.3,146M1459,162.8L1459,316" stroke="#444" stroke-width="1.0" fill="none" opacity="0.75"/><path d="M1390.4,144.6L1454.1,130.4" stroke="#111" stroke-width="1.5"/><path d="M1390.4,144.6L1394.1,145.4L1393.4,142.4ZM1454.1,130.4L1451.1,132.6L1450.4,129.6Z" fill="#111"/><path d="M1457.4,130.4L1525.0,144.6" stroke="#111" stroke-width="1.5"/><path d="M1457.4,130.4L1460.4,132.6L1461.0,129.6ZM1525.0,144.6L1521.4,145.4L1522.0,142.4Z" fill="#111"/><path d="M1386.5,152.9L1386.5,301.2" stroke="#111" stroke-width="1.5"/><path d="M1386.5,152.9L1385.0,156.3L1388.0,156.3ZM1386.5,301.2L1385.0,297.8L1388.0,297.8Z" fill="#111"/><text transform="translate(1422.2,137.5) rotate(-12.6) translate(0,-2.5)" text-anchor="middle" style="font-family:'Liberation Sans',sans-serif;font-size:6.8px;fill:#555">5.0nm</text><text transform="translate(1491.2,137.5) rotate(11.9) translate(0,-2.5)" text-anchor="middle" style="font-family:'Liberation Sans',sans-serif;font-size:6.8px;fill:#555">5.0nm</text><text transform="translate(1384.0,227.1) rotate(-90)" text-anchor="middle" style="font-family:'Liberation Sans',sans-serif;font-size:6.8px;fill:#555">5.0nm</text>
<path d="M1593.9,96.8L1621.5,87.5M1583.5,122.7L1595.0,166.6M1649.4,111.2L1681.4,114.9M1585.7,111.7L1616.0,73.7M1663.5,203.8L1681.2,228.1M1598.3,168.8L1633.2,199.9M1658.0,82.4L1695.0,96.1M1623.5,106.4L1650.8,104.2M1667.7,223.9L1695.0,228.8M1672.7,153.0L1689.5,196.4M1620.2,141.3L1654.6,152.4M1592.3,116.8L1606.9,138.6M1578.0,196.5L1602.0,171.9M1633.2,119.3L1633.5,149.4M1612.3,103.2L1641.7,116.2M1604.2,215.9L1637.4,195.0M1677.6,107.0L1683.5,76.6M1654.0,194.6L1676.8,170.0M1598.5,176.0L1604.2,133.6M1661.4,225.4L1695.0,253.0M1581.6,102.6L1586.4,147.1M1605.5,231.6L1648.0,248.5M1599.9,110.2L1628.1,105.2M1612.6,249.7L1634.6,236.9M1578.0,90.5L1597.7,117.2M1612.6,73.2L1614.7,109.0M1602.1,98.9L1607.2,71.0M1653.4,119.0L1658.2,81.7M1601.9,253.0L1616.4,231.7M1665.6,127.4L1667.1,164.6M1606.3,164.1L1610.4,128.5M1599.5,214.2L1618.7,246.8M1578.0,129.8L1596.0,107.8M1601.5,239.0L1612.9,215.1M1682.6,155.8L1683.7,191.2M1666.8,171.7L1693.6,206.5M1621.4,109.0L1650.4,71.7M1661.9,247.0L1695.0,226.5M1658.6,171.0L1679.7,203.2M1635.3,210.8L1671.5,178.6M1684.0,71.0L1688.5,111.7M1650.4,71.0L1659.3,95.3M1684.8,205.9L1690.3,177.0M1633.9,157.2L1668.6,191.2M1602.7,71.0L1608.9,87.0M1664.9,75.8L1690.2,113.0M1672.1,156.9L1683.3,185.0M1647.7,111.1L1662.6,153.3M1632.3,179.6L1634.5,153.7M1638.4,141.6L1655.2,178.5M1584.3,123.5L1609.9,152.1M1578.0,209.7L1590.2,233.1M1631.0,128.1L1651.5,154.1M1606.0,145.9L1608.9,173.4M1587.8,165.5L1601.2,201.1M1620.6,214.7L1638.0,235.2M1659.2,121.9L1695.0,95.0M1616.2,234.9L1639.9,194.1M1584.4,100.6L1618.1,100.0M1631.1,225.3L1651.1,240.9M1594.4,170.8L1637.6,169.0M1618.6,104.0L1651.0,71.0M1620.0,188.5L1621.8,229.4M1635.7,194.6L1675.8,167.9M1613.6,247.9L1652.2,220.9M1653.6,184.5L1681.9,179.3M1653.6,130.8L1678.5,144.7M1582.6,87.1L1599.4,111.6M1663.8,135.4L1695.0,143.5M1626.4,97.8L1672.9,83.1M1587.6,197.6L1615.6,180.7M1580.9,71.0L1588.2,100.3M1667.2,201.6L1671.5,230.5M1621.9,155.5L1669.4,166.8M1657.4,253.0L1672.3,225.0M1634.1,196.8L1677.1,213.5M1595.7,243.2L1634.3,231.4M1666.9,206.6L1692.6,189.1M1617.3,160.4L1617.9,208.2M1616.8,130.9L1634.4,158.1M1616.3,92.6L1637.5,71.0M1635.2,192.4L1680.0,172.0M1644.7,125.8L1655.2,77.2M1674.0,230.6L1695.0,241.2M1578.0,138.0L1607.6,100.8M1672.3,224.8L1686.3,197.0M1603.5,253.0L1625.7,221.2M1654.2,154.5L1658.2,186.1M1635.3,114.1L1643.0,89.3M1611.7,120.1L1621.3,71.0M1595.9,217.7L1631.1,243.6M1645.3,221.6L1661.5,253.0M1628.1,183.5L1658.0,208.7M1628.0,84.6L1645.6,117.6M1583.3,89.0L1595.5,118.2M1617.6,178.9L1631.7,209.2M1622.1,172.0L1626.2,124.9M1578.0,253.0L1590.8,230.0M1661.5,233.5L1687.5,204.3M1621.3,219.7L1646.6,181.2M1684.6,174.7L1695.0,222.0M1613.4,205.8L1633.3,240.5M1589.2,167.2L1598.2,198.8M1640.1,227.9L1664.9,235.9M1641.8,100.1L1659.9,137.9M1599.9,225.2L1631.1,238.1M1665.1,208.5L1680.7,253.0M1635.5,190.8L1672.0,203.2M1684.2,157.0L1695.0,115.3M1621.3,165.3L1651.3,174.8M1588.7,71.0L1619.1,105.2M1656.4,71.6L1659.5,117.5M1627.9,71.0L1647.1,92.2M1640.1,71.0L1659.5,85.9M1612.6,109.6L1655.7,89.3M1649.5,228.0L1677.7,207.2M1624.0,86.8L1671.9,73.2M1647.0,238.4L1681.4,213.3M1653.5,200.9L1682.5,195.1M1580.5,214.4L1587.4,245.8M1643.0,136.6L1685.8,154.7M1603.3,196.3L1630.7,169.9M1578.0,135.3L1604.2,105.4M1589.7,231.6L1603.2,183.4M1585.1,109.4L1615.1,71.0M1640.9,230.8L1668.9,230.7M1618.7,139.5L1619.6,168.9M1599.9,245.7L1617.3,199.1M1593.3,162.2L1635.4,185.5M1578.7,241.3L1601.8,204.7M1578.0,221.7L1593.2,196.1M1578.0,143.9L1607.2,118.3M1647.7,123.4L1648.6,152.9M1602.2,221.3L1608.7,253.0M1682.3,71.0L1695.0,104.6M1650.0,236.7L1659.7,208.1M1578.0,155.5L1616.2,161.1M1610.7,185.5L1632.2,224.3M1578.0,113.0L1596.0,88.9M1628.9,101.8L1660.2,114.7M1619.0,183.8L1624.3,213.4M1611.9,253.0L1628.0,236.6M1584.6,203.0L1621.1,235.5M1618.4,93.7L1654.0,71.0M1607.8,105.6L1641.9,91.5M1615.4,164.4L1626.2,140.8M1653.8,206.4L1681.0,199.3M1608.1,154.6L1620.3,189.9M1677.2,183.9L1695.0,149.6M1637.6,171.1L1657.2,187.8M1624.1,226.8L1635.2,202.9M1585.7,127.6L1618.2,120.9M1632.5,113.8L1669.8,94.1M1638.2,227.2L1644.5,253.0M1601.5,166.2L1635.6,171.0M1662.0,109.9L1690.1,107.4M1677.7,164.4L1678.8,193.2M1655.8,201.7L1663.2,156.4M1673.2,71.0L1681.4,110.3M1638.1,178.7L1657.7,160.7M1622.5,241.1L1645.2,211.7M1609.8,172.0L1615.8,219.2M1613.2,166.7L1613.5,128.1M1671.0,240.3L1679.1,205.1M1586.4,133.1L1595.1,164.3M1666.0,229.4L1682.4,253.0M1682.0,223.7L1682.1,249.2M1578.0,124.3L1600.3,126.3M1578.0,176.4L1609.8,197.1M1626.6,163.1L1648.8,178.2M1622.4,118.9L1636.7,76.8M1602.1,146.6L1632.6,120.8M1589.5,210.9L1600.3,162.8M1581.3,206.6L1616.9,211.7M1602.0,123.3L1628.4,151.2M1626.8,111.9L1654.1,123.2M1614.9,185.9L1654.3,191.4M1641.3,87.1L1647.0,129.2M1644.5,244.6L1677.7,239.5M1601.7,139.4L1628.6,119.9M1591.1,169.7L1618.5,148.7M1644.9,108.9L1663.8,150.1M1610.5,232.6L1625.1,209.1M1690.0,103.3L1690.9,71.0M1578.0,186.6L1597.5,192.0M1594.0,249.4L1623.5,239.1M1619.3,211.3L1641.0,194.5M1666.0,103.4L1670.4,78.4M1675.9,137.1L1695.0,163.7M1669.4,144.1L1695.0,124.7M1578.0,123.6L1595.7,152.4M1614.1,243.5L1656.7,234.3M1610.5,94.5L1639.1,83.9M1578.0,141.3L1592.1,107.4M1656.5,191.9L1668.4,222.9M1632.1,238.2L1677.8,222.7M1584.1,212.8L1602.3,253.0M1651.4,203.5L1693.7,194.7M1655.3,166.3L1695.0,184.4M1610.4,156.5L1615.7,109.5M1640.5,203.3L1660.8,181.5M1618.1,236.3L1650.3,220.5M1618.6,244.4L1636.5,200.9M1578.0,183.4L1595.8,210.7M1655.5,138.8L1670.2,107.9M1590.4,196.0L1631.4,204.4M1673.2,190.4L1695.0,229.8M1666.4,213.3L1695.0,195.8M1657.6,191.6L1671.2,233.3M1641.0,113.2L1668.8,124.3M1651.2,129.6L1653.9,80.4M1673.6,150.3L1680.0,105.0M1653.5,81.8L1678.7,120.7M1642.2,135.4L1647.0,109.0M1616.1,194.5L1644.1,207.5M1655.1,79.9L1682.8,90.3M1578.0,95.8L1591.8,120.4M1578.0,168.0L1601.2,149.9M1640.5,182.3L1649.4,214.8M1641.4,104.6L1661.0,85.1M1657.3,118.9L1694.6,148.0M1610.7,123.8L1637.1,97.1M1614.9,71.0L1633.6,104.8M1659.6,207.8L1694.5,237.7M1645.7,129.0L1671.7,169.7M1584.4,115.2L1603.0,83.6M1668.7,151.2L1683.8,182.2M1629.2,110.7L1658.1,124.3M1578.0,139.4L1606.0,148.8M1605.1,225.0L1621.4,249.2M1664.3,217.5L1669.4,253.0M1606.5,160.4L1642.6,179.0M1589.2,228.0L1616.0,231.4M1601.7,89.9L1629.1,86.5M1628.2,104.0L1651.3,142.1M1587.0,212.7L1617.9,220.9M1662.2,81.4L1695.0,71.0M1593.7,144.7L1605.7,176.3M1657.3,82.8L1661.1,132.2M1588.7,215.0L1611.2,202.1M1585.8,204.4L1624.1,200.2M1578.6,112.1L1613.3,96.4M1650.8,165.5L1692.1,140.7M1646.5,191.7L1668.0,222.4M1591.0,83.3L1629.7,104.2M1661.6,235.6L1695.0,236.0M1669.2,96.6L1695.0,81.6M1638.5,198.2L1656.6,164.8M1592.3,155.6L1610.0,127.5M1641.0,160.2L1659.7,128.2M1641.4,138.9L1668.7,115.1M1646.4,73.5L1669.2,87.3M1672.2,96.6L1685.8,118.7M1621.3,102.2L1650.2,136.2M1582.4,71.2L1609.2,94.9M1604.5,143.4L1640.8,127.3M1599.4,98.9L1649.3,94.4M1661.5,182.7L1669.7,218.2M1614.4,234.6L1628.6,192.4M1578.0,182.7L1620.4,184.7" stroke="#5898de" stroke-width="3.2" stroke-linecap="round" opacity="0.95" fill="none"/><path d="M1593.9,96.8L1621.5,87.5M1583.5,122.7L1595.0,166.6M1649.4,111.2L1681.4,114.9M1585.7,111.7L1616.0,73.7M1663.5,203.8L1681.2,228.1M1598.3,168.8L1633.2,199.9M1658.0,82.4L1695.0,96.1M1623.5,106.4L1650.8,104.2M1667.7,223.9L1695.0,228.8M1672.7,153.0L1689.5,196.4M1620.2,141.3L1654.6,152.4M1592.3,116.8L1606.9,138.6M1578.0,196.5L1602.0,171.9M1633.2,119.3L1633.5,149.4M1612.3,103.2L1641.7,116.2M1604.2,215.9L1637.4,195.0M1677.6,107.0L1683.5,76.6M1654.0,194.6L1676.8,170.0M1598.5,176.0L1604.2,133.6M1661.4,225.4L1695.0,253.0M1581.6,102.6L1586.4,147.1M1605.5,231.6L1648.0,248.5M1599.9,110.2L1628.1,105.2M1612.6,249.7L1634.6,236.9M1578.0,90.5L1597.7,117.2M1612.6,73.2L1614.7,109.0M1602.1,98.9L1607.2,71.0M1653.4,119.0L1658.2,81.7M1601.9,253.0L1616.4,231.7M1665.6,127.4L1667.1,164.6M1606.3,164.1L1610.4,128.5M1599.5,214.2L1618.7,246.8M1578.0,129.8L1596.0,107.8M1601.5,239.0L1612.9,215.1M1682.6,155.8L1683.7,191.2M1666.8,171.7L1693.6,206.5M1621.4,109.0L1650.4,71.7M1661.9,247.0L1695.0,226.5M1658.6,171.0L1679.7,203.2M1635.3,210.8L1671.5,178.6M1684.0,71.0L1688.5,111.7M1650.4,71.0L1659.3,95.3M1684.8,205.9L1690.3,177.0M1633.9,157.2L1668.6,191.2M1602.7,71.0L1608.9,87.0M1664.9,75.8L1690.2,113.0M1672.1,156.9L1683.3,185.0M1647.7,111.1L1662.6,153.3M1632.3,179.6L1634.5,153.7M1638.4,141.6L1655.2,178.5M1584.3,123.5L1609.9,152.1M1578.0,209.7L1590.2,233.1M1631.0,128.1L1651.5,154.1M1606.0,145.9L1608.9,173.4M1587.8,165.5L1601.2,201.1M1620.6,214.7L1638.0,235.2M1659.2,121.9L1695.0,95.0M1616.2,234.9L1639.9,194.1M1584.4,100.6L1618.1,100.0M1631.1,225.3L1651.1,240.9M1594.4,170.8L1637.6,169.0M1618.6,104.0L1651.0,71.0M1620.0,188.5L1621.8,229.4M1635.7,194.6L1675.8,167.9M1613.6,247.9L1652.2,220.9M1653.6,184.5L1681.9,179.3M1653.6,130.8L1678.5,144.7M1582.6,87.1L1599.4,111.6M1663.8,135.4L1695.0,143.5M1626.4,97.8L1672.9,83.1M1587.6,197.6L1615.6,180.7M1580.9,71.0L1588.2,100.3M1667.2,201.6L1671.5,230.5M1621.9,155.5L1669.4,166.8M1657.4,253.0L1672.3,225.0M1634.1,196.8L1677.1,213.5M1595.7,243.2L1634.3,231.4M1666.9,206.6L1692.6,189.1M1617.3,160.4L1617.9,208.2M1616.8,130.9L1634.4,158.1M1616.3,92.6L1637.5,71.0M1635.2,192.4L1680.0,172.0M1644.7,125.8L1655.2,77.2M1674.0,230.6L1695.0,241.2M1578.0,138.0L1607.6,100.8M1672.3,224.8L1686.3,197.0M1603.5,253.0L1625.7,221.2M1654.2,154.5L1658.2,186.1M1635.3,114.1L1643.0,89.3M1611.7,120.1L1621.3,71.0M1595.9,217.7L1631.1,243.6M1645.3,221.6L1661.5,253.0M1628.1,183.5L1658.0,208.7M1628.0,84.6L1645.6,117.6M1583.3,89.0L1595.5,118.2M1617.6,178.9L1631.7,209.2M1622.1,172.0L1626.2,124.9M1578.0,253.0L1590.8,230.0M1661.5,233.5L1687.5,204.3M1621.3,219.7L1646.6,181.2M1684.6,174.7L1695.0,222.0M1613.4,205.8L1633.3,240.5M1589.2,167.2L1598.2,198.8M1640.1,227.9L1664.9,235.9M1641.8,100.1L1659.9,137.9M1599.9,225.2L1631.1,238.1M1665.1,208.5L1680.7,253.0M1635.5,190.8L1672.0,203.2M1684.2,157.0L1695.0,115.3M1621.3,165.3L1651.3,174.8M1588.7,71.0L1619.1,105.2M1656.4,71.6L1659.5,117.5M1627.9,71.0L1647.1,92.2M1640.1,71.0L1659.5,85.9M1612.6,109.6L1655.7,89.3M1649.5,228.0L1677.7,207.2M1624.0,86.8L1671.9,73.2M1647.0,238.4L1681.4,213.3M1653.5,200.9L1682.5,195.1M1580.5,214.4L1587.4,245.8M1643.0,136.6L1685.8,154.7M1603.3,196.3L1630.7,169.9M1578.0,135.3L1604.2,105.4M1589.7,231.6L1603.2,183.4M1585.1,109.4L1615.1,71.0M1640.9,230.8L1668.9,230.7M1618.7,139.5L1619.6,168.9M1599.9,245.7L1617.3,199.1M1593.3,162.2L1635.4,185.5M1578.7,241.3L1601.8,204.7M1578.0,221.7L1593.2,196.1M1578.0,143.9L1607.2,118.3M1647.7,123.4L1648.6,152.9M1602.2,221.3L1608.7,253.0M1682.3,71.0L1695.0,104.6M1650.0,236.7L1659.7,208.1M1578.0,155.5L1616.2,161.1M1610.7,185.5L1632.2,224.3M1578.0,113.0L1596.0,88.9M1628.9,101.8L1660.2,114.7M1619.0,183.8L1624.3,213.4M1611.9,253.0L1628.0,236.6M1584.6,203.0L1621.1,235.5M1618.4,93.7L1654.0,71.0M1607.8,105.6L1641.9,91.5M1615.4,164.4L1626.2,140.8M1653.8,206.4L1681.0,199.3M1608.1,154.6L1620.3,189.9M1677.2,183.9L1695.0,149.6M1637.6,171.1L1657.2,187.8M1624.1,226.8L1635.2,202.9M1585.7,127.6L1618.2,120.9M1632.5,113.8L1669.8,94.1M1638.2,227.2L1644.5,253.0M1601.5,166.2L1635.6,171.0M1662.0,109.9L1690.1,107.4M1677.7,164.4L1678.8,193.2M1655.8,201.7L1663.2,156.4M1673.2,71.0L1681.4,110.3M1638.1,178.7L1657.7,160.7M1622.5,241.1L1645.2,211.7M1609.8,172.0L1615.8,219.2M1613.2,166.7L1613.5,128.1M1671.0,240.3L1679.1,205.1M1586.4,133.1L1595.1,164.3M1666.0,229.4L1682.4,253.0M1682.0,223.7L1682.1,249.2M1578.0,124.3L1600.3,126.3M1578.0,176.4L1609.8,197.1M1626.6,163.1L1648.8,178.2M1622.4,118.9L1636.7,76.8M1602.1,146.6L1632.6,120.8M1589.5,210.9L1600.3,162.8M1581.3,206.6L1616.9,211.7M1602.0,123.3L1628.4,151.2M1626.8,111.9L1654.1,123.2M1614.9,185.9L1654.3,191.4M1641.3,87.1L1647.0,129.2M1644.5,244.6L1677.7,239.5M1601.7,139.4L1628.6,119.9M1591.1,169.7L1618.5,148.7M1644.9,108.9L1663.8,150.1M1610.5,232.6L1625.1,209.1M1690.0,103.3L1690.9,71.0M1578.0,186.6L1597.5,192.0M1594.0,249.4L1623.5,239.1M1619.3,211.3L1641.0,194.5M1666.0,103.4L1670.4,78.4M1675.9,137.1L1695.0,163.7M1669.4,144.1L1695.0,124.7M1578.0,123.6L1595.7,152.4M1614.1,243.5L1656.7,234.3M1610.5,94.5L1639.1,83.9M1578.0,141.3L1592.1,107.4M1656.5,191.9L1668.4,222.9M1632.1,238.2L1677.8,222.7M1584.1,212.8L1602.3,253.0M1651.4,203.5L1693.7,194.7M1655.3,166.3L1695.0,184.4M1610.4,156.5L1615.7,109.5M1640.5,203.3L1660.8,181.5M1618.1,236.3L1650.3,220.5M1618.6,244.4L1636.5,200.9M1578.0,183.4L1595.8,210.7M1655.5,138.8L1670.2,107.9M1590.4,196.0L1631.4,204.4M1673.2,190.4L1695.0,229.8M1666.4,213.3L1695.0,195.8M1657.6,191.6L1671.2,233.3M1641.0,113.2L1668.8,124.3M1651.2,129.6L1653.9,80.4M1673.6,150.3L1680.0,105.0M1653.5,81.8L1678.7,120.7M1642.2,135.4L1647.0,109.0M1616.1,194.5L1644.1,207.5M1655.1,79.9L1682.8,90.3M1578.0,95.8L1591.8,120.4M1578.0,168.0L1601.2,149.9M1640.5,182.3L1649.4,214.8M1641.4,104.6L1661.0,85.1M1657.3,118.9L1694.6,148.0M1610.7,123.8L1637.1,97.1M1614.9,71.0L1633.6,104.8M1659.6,207.8L1694.5,237.7M1645.7,129.0L1671.7,169.7M1584.4,115.2L1603.0,83.6M1668.7,151.2L1683.8,182.2M1629.2,110.7L1658.1,124.3M1578.0,139.4L1606.0,148.8M1605.1,225.0L1621.4,249.2M1664.3,217.5L1669.4,253.0M1606.5,160.4L1642.6,179.0M1589.2,228.0L1616.0,231.4M1601.7,89.9L1629.1,86.5M1628.2,104.0L1651.3,142.1M1587.0,212.7L1617.9,220.9M1662.2,81.4L1695.0,71.0M1593.7,144.7L1605.7,176.3M1657.3,82.8L1661.1,132.2M1588.7,215.0L1611.2,202.1M1585.8,204.4L1624.1,200.2M1578.6,112.1L1613.3,96.4M1650.8,165.5L1692.1,140.7M1646.5,191.7L1668.0,222.4M1591.0,83.3L1629.7,104.2M1661.6,235.6L1695.0,236.0M1669.2,96.6L1695.0,81.6M1638.5,198.2L1656.6,164.8M1592.3,155.6L1610.0,127.5M1641.0,160.2L1659.7,128.2M1641.4,138.9L1668.7,115.1M1646.4,73.5L1669.2,87.3M1672.2,96.6L1685.8,118.7M1621.3,102.2L1650.2,136.2M1582.4,71.2L1609.2,94.9M1604.5,143.4L1640.8,127.3M1599.4,98.9L1649.3,94.4M1661.5,182.7L1669.7,218.2M1614.4,234.6L1628.6,192.4M1578.0,182.7L1620.4,184.7" stroke="#e0eaf6" stroke-width="1.0" stroke-dasharray="1.1 1.9" opacity="0.8" fill="none"/><path d="M1593.9,96.8h0.01M1649.4,111.2h0.01M1663.5,203.8h0.01M1658.0,82.4h0.01M1667.7,223.9h0.01M1620.2,141.3h0.01M1578.0,196.5h0.01M1612.3,103.2h0.01M1677.6,107.0h0.01M1598.5,176.0h0.01M1581.6,102.6h0.01M1599.9,110.2h0.01M1578.0,90.5h0.01M1602.1,98.9h0.01M1601.9,253.0h0.01M1606.3,164.1h0.01M1578.0,129.8h0.01M1682.6,155.8h0.01M1621.4,109.0h0.01M1658.6,171.0h0.01M1684.0,71.0h0.01M1684.8,205.9h0.01M1602.7,71.0h0.01M1672.1,156.9h0.01M1632.3,179.6h0.01M1584.3,123.5h0.01M1631.0,128.1h0.01M1587.8,165.5h0.01M1659.2,121.9h0.01M1584.4,100.6h0.01M1594.4,170.8h0.01M1620.0,188.5h0.01M1613.6,247.9h0.01M1653.6,130.8h0.01M1663.8,135.4h0.01M1587.6,197.6h0.01M1667.2,201.6h0.01M1657.4,253.0h0.01M1595.7,243.2h0.01M1617.3,160.4h0.01M1616.3,92.6h0.01M1644.7,125.8h0.01M1578.0,138.0h0.01M1603.5,253.0h0.01M1635.3,114.1h0.01M1595.9,217.7h0.01M1628.1,183.5h0.01M1583.3,89.0h0.01M1622.1,172.0h0.01M1661.5,233.5h0.01M1684.6,174.7h0.01M1589.2,167.2h0.01M1641.8,100.1h0.01M1665.1,208.5h0.01M1684.2,157.0h0.01M1588.7,71.0h0.01M1627.9,71.0h0.01M1612.6,109.6h0.01M1624.0,86.8h0.01M1653.5,200.9h0.01M1643.0,136.6h0.01M1578.0,135.3h0.01M1585.1,109.4h0.01M1618.7,139.5h0.01M1593.3,162.2h0.01M1578.0,221.7h0.01M1647.7,123.4h0.01M1682.3,71.0h0.01M1578.0,155.5h0.01M1578.0,113.0h0.01M1619.0,183.8h0.01M1584.6,203.0h0.01M1607.8,105.6h0.01M1653.8,206.4h0.01M1677.2,183.9h0.01M1624.1,226.8h0.01M1632.5,113.8h0.01M1601.5,166.2h0.01M1677.7,164.4h0.01M1673.2,71.0h0.01M1622.5,241.1h0.01M1613.2,166.7h0.01M1586.4,133.1h0.01M1682.0,223.7h0.01M1578.0,176.4h0.01M1622.4,118.9h0.01M1589.5,210.9h0.01M1602.0,123.3h0.01M1614.9,185.9h0.01M1644.5,244.6h0.01M1591.1,169.7h0.01M1610.5,232.6h0.01M1578.0,186.6h0.01M1619.3,211.3h0.01M1675.9,137.1h0.01M1578.0,123.6h0.01M1610.5,94.5h0.01M1656.5,191.9h0.01M1584.1,212.8h0.01M1655.3,166.3h0.01M1640.5,203.3h0.01M1618.6,244.4h0.01M1655.5,138.8h0.01M1673.2,190.4h0.01M1657.6,191.6h0.01M1651.2,129.6h0.01M1653.5,81.8h0.01M1616.1,194.5h0.01M1578.0,95.8h0.01M1640.5,182.3h0.01M1657.3,118.9h0.01M1614.9,71.0h0.01M1645.7,129.0h0.01M1668.7,151.2h0.01M1578.0,139.4h0.01M1664.3,217.5h0.01M1589.2,228.0h0.01M1628.2,104.0h0.01M1662.2,81.4h0.01M1657.3,82.8h0.01M1585.8,204.4h0.01M1650.8,165.5h0.01M1591.0,83.3h0.01M1669.2,96.6h0.01M1592.3,155.6h0.01M1641.4,138.9h0.01M1672.2,96.6h0.01M1582.4,71.2h0.01M1599.4,98.9h0.01M1614.4,234.6h0.01M1595.0,166.6h0.01M1681.2,228.1h0.01M1650.8,104.2h0.01M1654.6,152.4h0.01M1633.5,149.4h0.01M1683.5,76.6h0.01M1695.0,253.0h0.01M1628.1,105.2h0.01M1614.7,109.0h0.01M1616.4,231.7h0.01M1618.7,246.8h0.01M1683.7,191.2h0.01M1695.0,226.5h0.01M1688.5,111.7h0.01M1668.6,191.2h0.01M1683.3,185.0h0.01M1655.2,178.5h0.01M1651.5,154.1h0.01M1638.0,235.2h0.01M1618.1,100.0h0.01M1651.0,71.0h0.01M1652.2,220.9h0.01M1599.4,111.6h0.01M1615.6,180.7h0.01M1669.4,166.8h0.01M1634.3,231.4h0.01M1634.4,158.1h0.01M1655.2,77.2h0.01M1686.3,197.0h0.01M1643.0,89.3h0.01M1661.5,253.0h0.01M1595.5,118.2h0.01M1590.8,230.0h0.01M1695.0,222.0h0.01M1664.9,235.9h0.01M1680.7,253.0h0.01M1651.3,174.8h0.01M1647.1,92.2h0.01M1677.7,207.2h0.01M1682.5,195.1h0.01M1630.7,169.9h0.01M1615.1,71.0h0.01M1617.3,199.1h0.01M1593.2,196.1h0.01M1608.7,253.0h0.01M1616.2,161.1h0.01M1660.2,114.7h0.01M1621.1,235.5h0.01M1626.2,140.8h0.01M1695.0,149.6h0.01M1618.2,120.9h0.01M1635.6,171.0h0.01M1663.2,156.4h0.01M1645.2,211.7h0.01M1679.1,205.1h0.01M1682.1,249.2h0.01M1648.8,178.2h0.01M1600.3,162.8h0.01M1654.1,123.2h0.01M1677.7,239.5h0.01M1663.8,150.1h0.01M1597.5,192.0h0.01M1670.4,78.4h0.01M1595.7,152.4h0.01M1592.1,107.4h0.01M1602.3,253.0h0.01M1615.7,109.5h0.01M1636.5,200.9h0.01M1631.4,204.4h0.01M1671.2,233.3h0.01M1680.0,105.0h0.01M1644.1,207.5h0.01M1601.2,149.9h0.01M1694.6,148.0h0.01M1694.5,237.7h0.01M1683.8,182.2h0.01M1621.4,249.2h0.01M1616.0,231.4h0.01M1617.9,220.9h0.01M1661.1,132.2h0.01M1613.3,96.4h0.01M1629.7,104.2h0.01M1656.6,164.8h0.01M1668.7,115.1h0.01M1650.2,136.2h0.01M1649.3,94.4h0.01M1620.4,184.7h0.01" stroke="#6a2ee0" stroke-width="2.6" stroke-linecap="round" opacity="0.85" fill="none"/><path d="M1568.7,80.8L1627,65.4L1705,76.4M1568.7,80.8V249.6L1644.5,262.8L1705,246.3V76.4" stroke="#666" stroke-width="0.9" fill="none"/><path d="M1568.7,80.8L1646.7,92.9L1705,76.4M1646.7,92.9L1644.5,262.8" stroke="#444" stroke-width="1.0" fill="none" opacity="0.75"/><path d="M1566.5,76.9L1626.9,60.4" stroke="#111" stroke-width="1.5"/><path d="M1566.5,76.9L1570.2,77.5L1569.4,74.5ZM1626.9,60.4L1624.0,62.8L1623.2,59.8Z" fill="#111"/><path d="M1633.5,61.0L1708.8,74.7" stroke="#111" stroke-width="1.5"/><path d="M1633.5,61.0L1636.6,63.1L1637.1,60.1ZM1708.8,74.7L1705.2,75.6L1705.7,72.6Z" fill="#111"/><path d="M1565.4,83.0L1565.4,250.6" stroke="#111" stroke-width="1.5"/><path d="M1565.4,83.0L1563.9,86.4L1566.9,86.4ZM1565.4,250.6L1563.9,247.2L1566.9,247.2Z" fill="#111"/><text transform="translate(1596.7,68.7) rotate(-15.3) translate(0,-2.5)" text-anchor="middle" style="font-family:'Liberation Sans',sans-serif;font-size:6.8px;fill:#555">5.0nm</text><text transform="translate(1671.2,67.8) rotate(10.3) translate(0,-2.5)" text-anchor="middle" style="font-family:'Liberation Sans',sans-serif;font-size:6.8px;fill:#555">5.0nm</text><text transform="translate(1562.9,166.8) rotate(-90)" text-anchor="middle" style="font-family:'Liberation Sans',sans-serif;font-size:6.8px;fill:#555">7.2nm</text></svg></body></html>
